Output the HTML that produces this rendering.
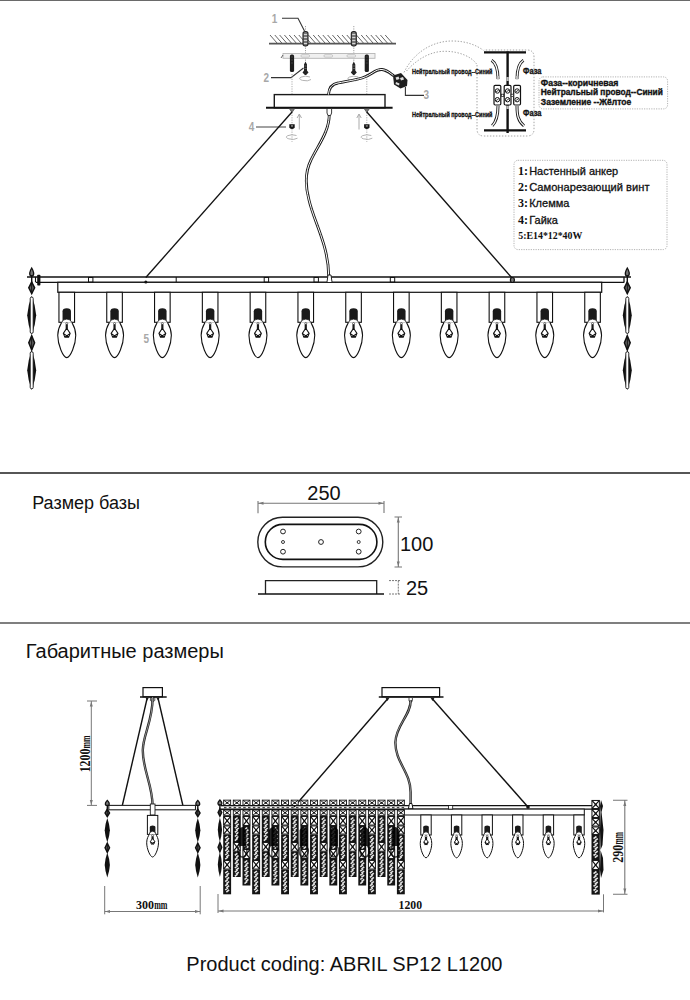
<!DOCTYPE html>
<html><head><meta charset="utf-8"><style>
html,body{margin:0;padding:0;background:#fff;width:690px;height:1000px;overflow:hidden}
svg{display:block}
</style></head><body>
<svg width="690" height="1000" viewBox="0 0 690 1000">
<line x1="0" y1="0.5" x2="690" y2="0.5" stroke="#6a6a6a" stroke-width="1.2"/>
<line x1="0" y1="473" x2="690" y2="473" stroke="#1e1e1e" stroke-width="1.4"/>
<line x1="0" y1="623" x2="690" y2="623" stroke="#555" stroke-width="1.4"/>
<text transform="translate(271.8,23.3) scale(0.8,1)" font-family='"Liberation Sans", sans-serif' font-weight="bold" font-size="12.5" fill="#a8a8a8">1</text>
<text transform="translate(263.5,82.3) scale(0.8,1)" font-family='"Liberation Sans", sans-serif' font-weight="bold" font-size="12.5" fill="#a8a8a8">2</text>
<text transform="translate(423.6,98.6) scale(0.8,1)" font-family='"Liberation Sans", sans-serif' font-weight="bold" font-size="12.5" fill="#a8a8a8">3</text>
<text transform="translate(248.8,131) scale(0.8,1)" font-family='"Liberation Sans", sans-serif' font-weight="bold" font-size="12.5" fill="#a8a8a8">4</text>
<text transform="translate(143.5,342.5) scale(0.8,1)" font-family='"Liberation Sans", sans-serif' font-weight="bold" font-size="12.5" fill="#a8a8a8">5</text>
<polyline points="282,18.3 298,18.3 304.5,31" fill="none" stroke="#333" stroke-width="1.1"/>
<polyline points="271,77.6 291,77.6 303.5,68" fill="none" stroke="#333" stroke-width="1.1"/>
<polyline points="256,127 286,127" fill="none" stroke="#555" stroke-width="1.1"/>
<polyline points="405.4,87 405.4,95.4 424,95.4" fill="none" stroke="#333" stroke-width="1.1"/>
<path d="M270.0,35 L277.0,43 M274.8,35 L281.8,43 M279.6,35 L286.6,43 M284.4,35 L291.4,43 M289.2,35 L296.2,43 M294.0,35 L301.0,43 M298.8,35 L305.8,43 M303.6,35 L310.6,43 M308.4,35 L315.4,43 M313.2,35 L320.2,43 M318.0,35 L325.0,43 M322.8,35 L329.8,43 M327.6,35 L334.6,43 M332.4,35 L339.4,43 M337.2,35 L344.2,43 M342.0,35 L349.0,43 M346.8,35 L353.8,43 M351.6,35 L358.6,43 M356.4,35 L363.4,43 M361.2,35 L368.2,43 M366.0,35 L373.0,43 M370.8,35 L377.8,43 M375.6,35 L382.6,43 M380.4,35 L387.4,43 M385.2,35 L392.2,43" stroke="#666" stroke-width="1" fill="none"/>
<line x1="269" y1="43.6" x2="396" y2="43.6" stroke="#555" stroke-width="1.6"/>
<line x1="305.5" y1="26" x2="305.5" y2="62" stroke="#888" stroke-width="0.8" stroke-dasharray="1.2,1.2"/>
<line x1="353.8" y1="26" x2="353.8" y2="62" stroke="#888" stroke-width="0.8" stroke-dasharray="1.2,1.2"/>
<line x1="292" y1="74" x2="292" y2="142" stroke="#999" stroke-width="0.8" stroke-dasharray="1.2,1.2"/>
<line x1="366.8" y1="74" x2="366.8" y2="142" stroke="#999" stroke-width="0.8" stroke-dasharray="1.2,1.2"/>
<rect x="303.0" y="31.5" width="5" height="14.5" rx="2.2" fill="#777" stroke="#222" stroke-width="1.1"/>
<path d="M303.9,34.5 h3.2 M303.9,37.5 h3.2 M303.9,40.5 h3.2 M303.9,43.5 h3.2" stroke="#eee" stroke-width="0.8"/>
<rect x="351.3" y="31.5" width="5" height="14.5" rx="2.2" fill="#777" stroke="#222" stroke-width="1.1"/>
<path d="M352.2,34.5 h3.2 M352.2,37.5 h3.2 M352.2,40.5 h3.2 M352.2,43.5 h3.2" stroke="#eee" stroke-width="0.8"/>
<rect x="283" y="53.5" width="92" height="4.8" fill="#f0f0f0" stroke="#b5b5b5" stroke-width="0.9"/>
<rect x="301" y="54.7" width="8.5" height="2.4" rx="1" fill="none" stroke="#aaa" stroke-width="0.6"/>
<rect x="324" y="54.7" width="8.5" height="2.4" rx="1" fill="none" stroke="#aaa" stroke-width="0.6"/>
<rect x="347" y="54.7" width="8.5" height="2.4" rx="1" fill="none" stroke="#aaa" stroke-width="0.6"/>
<path d="M281,58 l2,-3" stroke="#555" stroke-width="0.9"/>
<rect x="289.9" y="54.5" width="4.2" height="17.5" rx="1.6" fill="#1e1e1e"/>
<path d="M291,57 h2 M291,60 h2 M291,63 h2" stroke="#555" stroke-width="0.6"/>
<rect x="364.7" y="54.5" width="4.2" height="17.5" rx="1.6" fill="#1e1e1e"/>
<path d="M365.8,57 h2 M365.8,60 h2 M365.8,63 h2" stroke="#555" stroke-width="0.6"/>
<path d="M305.5,61.5 L307.0,64.5 L307.0,70.5 L308.5,72.5 L306.1,75 L304.9,75 L302.5,72.5 L304.0,70.5 L304.0,64.5 Z" fill="#222"/>
<path d="M304.3,66 h2.4 M304.3,68.5 h2.4" stroke="#888" stroke-width="0.6"/>
<path d="M310.0,77 A6 2.2 0 1 0 311.0,79.5" fill="none" stroke="#aaa" stroke-width="0.9"/>
<path d="M353.8,61.5 L355.3,64.5 L355.3,70.5 L356.8,72.5 L354.40000000000003,75 L353.2,75 L350.8,72.5 L352.3,70.5 L352.3,64.5 Z" fill="#222"/>
<path d="M352.6,66 h2.4 M352.6,68.5 h2.4" stroke="#888" stroke-width="0.6"/>
<path d="M358.3,77 A6 2.2 0 1 0 359.3,79.5" fill="none" stroke="#aaa" stroke-width="0.9"/>
<rect x="274.3" y="94.6" width="110.7" height="13.2" fill="#fff" stroke="#1a1a1a" stroke-width="1.4"/>
<line x1="266" y1="107.8" x2="392.6" y2="107.8" stroke="#111" stroke-width="2"/>
<path d="M289.2,108.5 L294.8,108.5 L292,112.5 Z" fill="#777" stroke="#333" stroke-width="0.6"/>
<path d="M289.3,124.3 h5.4 v3.5 q-2.7,2.5 -5.4,0 z" fill="#151515"/>
<rect x="291" y="125.3" width="2" height="1.3" fill="#999"/>
<path d="M296.5,135.5 A6 2.2 0 1 0 297.5,138.2" fill="none" stroke="#aaa" stroke-width="0.9"/>
<path d="M364.0,108.5 L369.6,108.5 L366.8,112.5 Z" fill="#777" stroke="#333" stroke-width="0.6"/>
<path d="M364.1,124.3 h5.4 v3.5 q-2.7,2.5 -5.4,0 z" fill="#151515"/>
<rect x="365.8" y="125.3" width="2" height="1.3" fill="#999"/>
<path d="M371.3,135.5 A6 2.2 0 1 0 372.3,138.2" fill="none" stroke="#aaa" stroke-width="0.9"/>
<path d="M299.3,129.5 V114.5 M297.1,118 L299.3,114 L301.5,118" fill="none" stroke="#aaa" stroke-width="1"/>
<path d="M359,129.5 V114.5 M356.8,118 L359,114 L361.2,118" fill="none" stroke="#aaa" stroke-width="1"/>
<path d="M328.5,94.5 C329,88 332,84 338,83 C348,81 355,80 362,78 C372,75 375,69 382,69.5 C387,70 390,73 394,76" fill="none" stroke="#1a1a1a" stroke-width="2.8"/>
<path d="M328.5,94.5 C329,88 332,84 338,83 C348,81 355,80 362,78 C372,75 375,69 382,69.5 C387,70 390,73 394,76" fill="none" stroke="#fff" stroke-width="1"/>
<path d="M393,75.5 L401,73 L407.5,80 L407,86 L400.5,88.5 L394,84.5 Z" fill="#1e1e1e"/>
<path d="M395.5,77.5 l3,-1 l1,2.5 l-3,1 z M400,78 l3,-1 l1,2.5 l-3,1 z M396,82 l3.5,1.5 l-0.5,2 l-3.5,-1.5 z" fill="#ddd"/>
<line x1="292" y1="112" x2="145.8" y2="277.5" stroke="#111" stroke-width="1.35"/>
<line x1="366.8" y1="112" x2="512.4" y2="278.5" stroke="#111" stroke-width="1.35"/>
<path d="M329.3,114 C329.3,132 318,145 311,160 C305,172 305,185 309,200 C314,222 328.5,245 328.7,276" fill="none" stroke="#1a1a1a" stroke-width="2.8"/>
<path d="M329.3,114 C329.3,132 318,145 311,160 C305,172 305,185 309,200 C314,222 328.5,245 328.7,276" fill="none" stroke="#fff" stroke-width="1.0"/>
<path d="M327,108.5 h4.6 v4.5 l-1,2.5 h-2.6 l-1,-2.5 z" fill="#fff" stroke="#222" stroke-width="0.9"/>
<path d="M404,72.4 C415,50 435,41 452,41 C466,41 476,45 483.4,50.3" stroke="#9a9a9a" stroke-width="0.9" stroke-dasharray="1.4,1.6" fill="none"/>
<path d="M406.5,71 C418,58 432,51 445.6,51.3 C460,51.5 472,57 477,64.6" stroke="#9a9a9a" stroke-width="0.9" stroke-dasharray="1.4,1.6" fill="none"/>
<path d="M477,65 V129 Q477,136 484,136 H527 Q534,136 534,129 V57 Q534,50 527,50 H484" stroke="#9a9a9a" stroke-width="0.9" stroke-dasharray="1.4,1.6" fill="none"/>
<text x="412" y="73.8" font-family='"Liberation Sans", sans-serif' font-weight="bold" font-size="7" fill="#111" text-anchor="start" textLength="80.5" lengthAdjust="spacingAndGlyphs" stroke="#111" stroke-width="0.3">Нейтральный провод--Синий</text>
<text x="412" y="116.5" font-family='"Liberation Sans", sans-serif' font-weight="bold" font-size="7" fill="#111" text-anchor="start" textLength="80.5" lengthAdjust="spacingAndGlyphs" stroke="#111" stroke-width="0.3">Нейтральный провод--Синий</text>
<text x="523.1" y="73.7" font-family='"Liberation Sans", sans-serif' font-weight="bold" font-size="8.2" fill="#111" text-anchor="start" textLength="18.3" lengthAdjust="spacingAndGlyphs" stroke="#111" stroke-width="0.35">Фаза</text>
<text x="523.1" y="116" font-family='"Liberation Sans", sans-serif' font-weight="bold" font-size="8.2" fill="#111" text-anchor="start" textLength="18.3" lengthAdjust="spacingAndGlyphs" stroke="#111" stroke-width="0.35">Фаза</text>
<line x1="484" y1="52.3" x2="526" y2="52.3" stroke="#111" stroke-width="2.2"/>
<line x1="484" y1="130.4" x2="526" y2="130.4" stroke="#111" stroke-width="2.2"/>
<line x1="507.6" y1="51.5" x2="507.6" y2="133" stroke="#111" stroke-width="2.4"/>
<rect x="506.4" y="77" width="2.4" height="4" fill="#bbb"/>
<rect x="506.4" y="105.5" width="2.4" height="3.5" fill="#bbb"/>
<path d="M491.6,60.3 C496.5,63.5 498,69 498,79" fill="none" stroke="#1a1a1a" stroke-width="3"/>
<path d="M491.6,60.3 C496.5,63.5 498,69 498,79" fill="none" stroke="#fff" stroke-width="1.2"/>
<path d="M523.5,60.3 C518.5,63.5 517,69 517,79" fill="none" stroke="#1a1a1a" stroke-width="3"/>
<path d="M523.5,60.3 C518.5,63.5 517,69 517,79" fill="none" stroke="#fff" stroke-width="1.2"/>
<path d="M498,106 C498,115 497,121 492.2,125.8" fill="none" stroke="#1a1a1a" stroke-width="3"/>
<path d="M498,106 C498,115 497,121 492.2,125.8" fill="none" stroke="#fff" stroke-width="1.2"/>
<path d="M517,106 C517,115 518,121 524,125.8" fill="none" stroke="#1a1a1a" stroke-width="3"/>
<path d="M517,106 C517,115 518,121 524,125.8" fill="none" stroke="#fff" stroke-width="1.2"/>
<rect x="496.7" y="76" width="2.6" height="3.5" fill="#bbb"/>
<rect x="515.7" y="76" width="2.6" height="3.5" fill="#bbb"/>
<rect x="494.0" y="85.3" width="6.8" height="19.7" rx="1.2" fill="#fff" stroke="#111" stroke-width="1.2"/>
<circle cx="497.4" cy="91" r="2.2" fill="none" stroke="#111" stroke-width="1"/>
<path d="M496.0,92 l2.8,-2" stroke="#111" stroke-width="0.8"/>
<circle cx="497.4" cy="99.7" r="2.2" fill="none" stroke="#111" stroke-width="1"/>
<path d="M496.0,100.7 l2.8,-2" stroke="#111" stroke-width="0.8"/>
<rect x="504.20000000000005" y="85.3" width="6.8" height="19.7" rx="1.2" fill="#fff" stroke="#111" stroke-width="1.2"/>
<circle cx="507.6" cy="91" r="2.2" fill="none" stroke="#111" stroke-width="1"/>
<path d="M506.20000000000005,92 l2.8,-2" stroke="#111" stroke-width="0.8"/>
<circle cx="507.6" cy="99.7" r="2.2" fill="none" stroke="#111" stroke-width="1"/>
<path d="M506.20000000000005,100.7 l2.8,-2" stroke="#111" stroke-width="0.8"/>
<rect x="513.7" y="85.3" width="6.8" height="19.7" rx="1.2" fill="#fff" stroke="#111" stroke-width="1.2"/>
<circle cx="517.1" cy="91" r="2.2" fill="none" stroke="#111" stroke-width="1"/>
<path d="M515.7,92 l2.8,-2" stroke="#111" stroke-width="0.8"/>
<circle cx="517.1" cy="99.7" r="2.2" fill="none" stroke="#111" stroke-width="1"/>
<path d="M515.7,100.7 l2.8,-2" stroke="#111" stroke-width="0.8"/>
<rect x="501.3" y="94.2" width="2.4" height="2.4" fill="#fff" stroke="#111" stroke-width="0.7"/>
<rect x="511.09999999999997" y="94.2" width="2.4" height="2.4" fill="#fff" stroke="#111" stroke-width="0.7"/>
<rect x="539" y="76.9" width="128.6" height="32" rx="4" fill="none" stroke="#aaa" stroke-width="0.9" stroke-dasharray="1.2,1.2"/>
<text x="540.8" y="85.7" font-family='"Liberation Sans", sans-serif' font-weight="bold" font-size="8.6" fill="#111" text-anchor="start" textLength="77.6" lengthAdjust="spacingAndGlyphs" stroke="#111" stroke-width="0.35">Фаза--коричневая</text>
<text x="540.8" y="95.3" font-family='"Liberation Sans", sans-serif' font-weight="bold" font-size="8.6" fill="#111" text-anchor="start" textLength="122" lengthAdjust="spacingAndGlyphs" stroke="#111" stroke-width="0.35">Нейтральный провод--Синий</text>
<text x="540.8" y="105" font-family='"Liberation Sans", sans-serif' font-weight="bold" font-size="8.6" fill="#111" text-anchor="start" textLength="90.4" lengthAdjust="spacingAndGlyphs" stroke="#111" stroke-width="0.35">Заземление --Жёлтое</text>
<rect x="514" y="160.3" width="153" height="89.3" rx="4" fill="none" stroke="#aaa" stroke-width="0.9" stroke-dasharray="1.2,1.2"/>
<text x="518" y="174.8" font-family='"Liberation Serif", serif' font-weight="bold" font-size="12" fill="#111">1:</text>
<text x="529.2" y="174.8" font-family='"Liberation Sans", sans-serif' font-size="11" fill="#111" stroke="#111" stroke-width="0.3" textLength="89" lengthAdjust="spacingAndGlyphs">Настенный анкер</text>
<text x="518" y="191" font-family='"Liberation Serif", serif' font-weight="bold" font-size="12" fill="#111">2:</text>
<text x="529.2" y="191" font-family='"Liberation Sans", sans-serif' font-size="11" fill="#111" stroke="#111" stroke-width="0.3" textLength="120.3" lengthAdjust="spacingAndGlyphs">Самонарезающий винт</text>
<text x="518" y="206.7" font-family='"Liberation Serif", serif' font-weight="bold" font-size="12" fill="#111">3:</text>
<text x="529.2" y="206.7" font-family='"Liberation Sans", sans-serif' font-size="11" fill="#111" stroke="#111" stroke-width="0.3" >Клемма</text>
<text x="518" y="223.5" font-family='"Liberation Serif", serif' font-weight="bold" font-size="12" fill="#111">4:</text>
<text x="529.2" y="223.5" font-family='"Liberation Sans", sans-serif' font-size="11" fill="#111" stroke="#111" stroke-width="0.3" >Гайка</text>
<text x="518.3" y="239.2" font-family='"Liberation Serif", serif' font-weight="bold" font-size="10.6" fill="#111" textLength="64" lengthAdjust="spacingAndGlyphs">5:E14*12*40W</text>
<line x1="27" y1="277" x2="631" y2="277" stroke="#111" stroke-width="1.3"/>
<line x1="36" y1="282.3" x2="624.3" y2="282.3" stroke="#111" stroke-width="1.3"/>
<line x1="35.5" y1="277" x2="35.5" y2="282.3" stroke="#111" stroke-width="1.1"/>
<rect x="37.2" y="274.8" width="3.2" height="10.8" rx="0.8" fill="#111"/>
<line x1="624" y1="277" x2="624" y2="282.3" stroke="#111" stroke-width="1.3"/>
<line x1="176.2" y1="277" x2="176.2" y2="282.3" stroke="#111" stroke-width="1"/>
<rect x="57.8" y="282.3" width="543.9" height="10" fill="#fff" stroke="#111" stroke-width="1.2"/>
<rect x="88.5" y="277.5" width="4.4" height="4.4" fill="#fff" stroke="#111" stroke-width="1"/>
<rect x="264.2" y="277.5" width="4.4" height="4.4" fill="#fff" stroke="#111" stroke-width="1"/>
<rect x="314.0" y="277.5" width="4.4" height="4.4" fill="#fff" stroke="#111" stroke-width="1"/>
<rect x="390.3" y="277.5" width="4.4" height="4.4" fill="#fff" stroke="#111" stroke-width="1"/>
<circle cx="145.8" cy="282" r="1.5" fill="#111"/>
<ellipse cx="512.4" cy="280" rx="2" ry="2.5" fill="#777" stroke="#111" stroke-width="1.2"/>
<path d="M327,282 L328,275 L331,275 L332,282" fill="#fff" stroke="#111" stroke-width="0.9"/>
<rect x="58.95" y="292.30" width="15.60" height="30.00" fill="#fff" stroke="#111" stroke-width="1.1"/>
<path d="M62.54,321.30 L62.54,311.15 Q62.54,308.20 66.75,308.20 Q70.96,308.20 70.96,311.15 L70.96,321.30 Z" fill="#1a1a1a"/>
<path d="M61.64,322.60 Q62.54,319.10 66.75,319.10 Q70.96,319.10 71.86,322.60 Z" fill="#fff" stroke="#111" stroke-width="0.8"/>
<path d="M61.71,322.30 C60.27,324.77 57.75,328.65 57.75,335.36 C57.75,344.89 63.15,357.60 66.75,357.60 C70.35,357.60 75.75,344.89 75.75,335.36 C75.75,328.65 73.23,324.77 71.79,322.30" fill="#fff" stroke="#111" stroke-width="1.1"/>
<circle cx="66.75" cy="323.50" r="1" fill="#fff" stroke="#222" stroke-width="0.6"/>
<rect x="65.65" y="324.30" width="2.2" height="4.59" fill="#1a1a1a"/>
<path d="M66.75,328.30 L70.17,333.43 L68.63,337.19 L64.87,337.19 L63.33,333.43 Z M63.33,333.43 L68.63,337.19 M70.17,333.43 L64.87,337.19" fill="none" stroke="#111" stroke-width="1.04"/>
<rect x="106.75" y="292.30" width="15.60" height="30.00" fill="#fff" stroke="#111" stroke-width="1.1"/>
<path d="M110.34,321.30 L110.34,311.15 Q110.34,308.20 114.55,308.20 Q118.76,308.20 118.76,311.15 L118.76,321.30 Z" fill="#1a1a1a"/>
<path d="M109.44,322.60 Q110.34,319.10 114.55,319.10 Q118.76,319.10 119.66,322.60 Z" fill="#fff" stroke="#111" stroke-width="0.8"/>
<path d="M109.51,322.30 C108.07,324.77 105.55,328.65 105.55,335.36 C105.55,344.89 110.95,357.60 114.55,357.60 C118.15,357.60 123.55,344.89 123.55,335.36 C123.55,328.65 121.03,324.77 119.59,322.30" fill="#fff" stroke="#111" stroke-width="1.1"/>
<circle cx="114.55" cy="323.50" r="1" fill="#fff" stroke="#222" stroke-width="0.6"/>
<rect x="113.45" y="324.30" width="2.2" height="4.59" fill="#1a1a1a"/>
<path d="M114.55,328.30 L117.97,333.43 L116.43,337.19 L112.67,337.19 L111.13,333.43 Z M111.13,333.43 L116.43,337.19 M117.97,333.43 L112.67,337.19" fill="none" stroke="#111" stroke-width="1.04"/>
<rect x="154.55" y="292.30" width="15.60" height="30.00" fill="#fff" stroke="#111" stroke-width="1.1"/>
<path d="M158.14,321.30 L158.14,311.15 Q158.14,308.20 162.35,308.20 Q166.56,308.20 166.56,311.15 L166.56,321.30 Z" fill="#1a1a1a"/>
<path d="M157.24,322.60 Q158.14,319.10 162.35,319.10 Q166.56,319.10 167.46,322.60 Z" fill="#fff" stroke="#111" stroke-width="0.8"/>
<path d="M157.31,322.30 C155.87,324.77 153.35,328.65 153.35,335.36 C153.35,344.89 158.75,357.60 162.35,357.60 C165.95,357.60 171.35,344.89 171.35,335.36 C171.35,328.65 168.83,324.77 167.39,322.30" fill="#fff" stroke="#111" stroke-width="1.1"/>
<circle cx="162.35" cy="323.50" r="1" fill="#fff" stroke="#222" stroke-width="0.6"/>
<rect x="161.25" y="324.30" width="2.2" height="4.59" fill="#1a1a1a"/>
<path d="M162.35,328.30 L165.77,333.43 L164.23,337.19 L160.47,337.19 L158.93,333.43 Z M158.93,333.43 L164.23,337.19 M165.77,333.43 L160.47,337.19" fill="none" stroke="#111" stroke-width="1.04"/>
<rect x="202.35" y="292.30" width="15.60" height="30.00" fill="#fff" stroke="#111" stroke-width="1.1"/>
<path d="M205.94,321.30 L205.94,311.15 Q205.94,308.20 210.15,308.20 Q214.36,308.20 214.36,311.15 L214.36,321.30 Z" fill="#1a1a1a"/>
<path d="M205.04,322.60 Q205.94,319.10 210.15,319.10 Q214.36,319.10 215.26,322.60 Z" fill="#fff" stroke="#111" stroke-width="0.8"/>
<path d="M205.11,322.30 C203.67,324.77 201.15,328.65 201.15,335.36 C201.15,344.89 206.55,357.60 210.15,357.60 C213.75,357.60 219.15,344.89 219.15,335.36 C219.15,328.65 216.63,324.77 215.19,322.30" fill="#fff" stroke="#111" stroke-width="1.1"/>
<circle cx="210.15" cy="323.50" r="1" fill="#fff" stroke="#222" stroke-width="0.6"/>
<rect x="209.05" y="324.30" width="2.2" height="4.59" fill="#1a1a1a"/>
<path d="M210.15,328.30 L213.57,333.43 L212.03,337.19 L208.27,337.19 L206.73,333.43 Z M206.73,333.43 L212.03,337.19 M213.57,333.43 L208.27,337.19" fill="none" stroke="#111" stroke-width="1.04"/>
<rect x="250.15" y="292.30" width="15.60" height="30.00" fill="#fff" stroke="#111" stroke-width="1.1"/>
<path d="M253.74,321.30 L253.74,311.15 Q253.74,308.20 257.95,308.20 Q262.16,308.20 262.16,311.15 L262.16,321.30 Z" fill="#1a1a1a"/>
<path d="M252.84,322.60 Q253.74,319.10 257.95,319.10 Q262.16,319.10 263.06,322.60 Z" fill="#fff" stroke="#111" stroke-width="0.8"/>
<path d="M252.91,322.30 C251.47,324.77 248.95,328.65 248.95,335.36 C248.95,344.89 254.35,357.60 257.95,357.60 C261.55,357.60 266.95,344.89 266.95,335.36 C266.95,328.65 264.43,324.77 262.99,322.30" fill="#fff" stroke="#111" stroke-width="1.1"/>
<circle cx="257.95" cy="323.50" r="1" fill="#fff" stroke="#222" stroke-width="0.6"/>
<rect x="256.85" y="324.30" width="2.2" height="4.59" fill="#1a1a1a"/>
<path d="M257.95,328.30 L261.37,333.43 L259.83,337.19 L256.07,337.19 L254.53,333.43 Z M254.53,333.43 L259.83,337.19 M261.37,333.43 L256.07,337.19" fill="none" stroke="#111" stroke-width="1.04"/>
<rect x="297.95" y="292.30" width="15.60" height="30.00" fill="#fff" stroke="#111" stroke-width="1.1"/>
<path d="M301.54,321.30 L301.54,311.15 Q301.54,308.20 305.75,308.20 Q309.96,308.20 309.96,311.15 L309.96,321.30 Z" fill="#1a1a1a"/>
<path d="M300.64,322.60 Q301.54,319.10 305.75,319.10 Q309.96,319.10 310.86,322.60 Z" fill="#fff" stroke="#111" stroke-width="0.8"/>
<path d="M300.71,322.30 C299.27,324.77 296.75,328.65 296.75,335.36 C296.75,344.89 302.15,357.60 305.75,357.60 C309.35,357.60 314.75,344.89 314.75,335.36 C314.75,328.65 312.23,324.77 310.79,322.30" fill="#fff" stroke="#111" stroke-width="1.1"/>
<circle cx="305.75" cy="323.50" r="1" fill="#fff" stroke="#222" stroke-width="0.6"/>
<rect x="304.65" y="324.30" width="2.2" height="4.59" fill="#1a1a1a"/>
<path d="M305.75,328.30 L309.17,333.43 L307.63,337.19 L303.87,337.19 L302.33,333.43 Z M302.33,333.43 L307.63,337.19 M309.17,333.43 L303.87,337.19" fill="none" stroke="#111" stroke-width="1.04"/>
<rect x="345.75" y="292.30" width="15.60" height="30.00" fill="#fff" stroke="#111" stroke-width="1.1"/>
<path d="M349.34,321.30 L349.34,311.15 Q349.34,308.20 353.55,308.20 Q357.76,308.20 357.76,311.15 L357.76,321.30 Z" fill="#1a1a1a"/>
<path d="M348.44,322.60 Q349.34,319.10 353.55,319.10 Q357.76,319.10 358.66,322.60 Z" fill="#fff" stroke="#111" stroke-width="0.8"/>
<path d="M348.51,322.30 C347.07,324.77 344.55,328.65 344.55,335.36 C344.55,344.89 349.95,357.60 353.55,357.60 C357.15,357.60 362.55,344.89 362.55,335.36 C362.55,328.65 360.03,324.77 358.59,322.30" fill="#fff" stroke="#111" stroke-width="1.1"/>
<circle cx="353.55" cy="323.50" r="1" fill="#fff" stroke="#222" stroke-width="0.6"/>
<rect x="352.45" y="324.30" width="2.2" height="4.59" fill="#1a1a1a"/>
<path d="M353.55,328.30 L356.97,333.43 L355.43,337.19 L351.67,337.19 L350.13,333.43 Z M350.13,333.43 L355.43,337.19 M356.97,333.43 L351.67,337.19" fill="none" stroke="#111" stroke-width="1.04"/>
<rect x="393.55" y="292.30" width="15.60" height="30.00" fill="#fff" stroke="#111" stroke-width="1.1"/>
<path d="M397.14,321.30 L397.14,311.15 Q397.14,308.20 401.35,308.20 Q405.56,308.20 405.56,311.15 L405.56,321.30 Z" fill="#1a1a1a"/>
<path d="M396.24,322.60 Q397.14,319.10 401.35,319.10 Q405.56,319.10 406.46,322.60 Z" fill="#fff" stroke="#111" stroke-width="0.8"/>
<path d="M396.31,322.30 C394.87,324.77 392.35,328.65 392.35,335.36 C392.35,344.89 397.75,357.60 401.35,357.60 C404.95,357.60 410.35,344.89 410.35,335.36 C410.35,328.65 407.83,324.77 406.39,322.30" fill="#fff" stroke="#111" stroke-width="1.1"/>
<circle cx="401.35" cy="323.50" r="1" fill="#fff" stroke="#222" stroke-width="0.6"/>
<rect x="400.25" y="324.30" width="2.2" height="4.59" fill="#1a1a1a"/>
<path d="M401.35,328.30 L404.77,333.43 L403.23,337.19 L399.47,337.19 L397.93,333.43 Z M397.93,333.43 L403.23,337.19 M404.77,333.43 L399.47,337.19" fill="none" stroke="#111" stroke-width="1.04"/>
<rect x="441.35" y="292.30" width="15.60" height="30.00" fill="#fff" stroke="#111" stroke-width="1.1"/>
<path d="M444.94,321.30 L444.94,311.15 Q444.94,308.20 449.15,308.20 Q453.36,308.20 453.36,311.15 L453.36,321.30 Z" fill="#1a1a1a"/>
<path d="M444.04,322.60 Q444.94,319.10 449.15,319.10 Q453.36,319.10 454.26,322.60 Z" fill="#fff" stroke="#111" stroke-width="0.8"/>
<path d="M444.11,322.30 C442.67,324.77 440.15,328.65 440.15,335.36 C440.15,344.89 445.55,357.60 449.15,357.60 C452.75,357.60 458.15,344.89 458.15,335.36 C458.15,328.65 455.63,324.77 454.19,322.30" fill="#fff" stroke="#111" stroke-width="1.1"/>
<circle cx="449.15" cy="323.50" r="1" fill="#fff" stroke="#222" stroke-width="0.6"/>
<rect x="448.05" y="324.30" width="2.2" height="4.59" fill="#1a1a1a"/>
<path d="M449.15,328.30 L452.57,333.43 L451.03,337.19 L447.27,337.19 L445.73,333.43 Z M445.73,333.43 L451.03,337.19 M452.57,333.43 L447.27,337.19" fill="none" stroke="#111" stroke-width="1.04"/>
<rect x="489.15" y="292.30" width="15.60" height="30.00" fill="#fff" stroke="#111" stroke-width="1.1"/>
<path d="M492.74,321.30 L492.74,311.15 Q492.74,308.20 496.95,308.20 Q501.16,308.20 501.16,311.15 L501.16,321.30 Z" fill="#1a1a1a"/>
<path d="M491.84,322.60 Q492.74,319.10 496.95,319.10 Q501.16,319.10 502.06,322.60 Z" fill="#fff" stroke="#111" stroke-width="0.8"/>
<path d="M491.91,322.30 C490.47,324.77 487.95,328.65 487.95,335.36 C487.95,344.89 493.35,357.60 496.95,357.60 C500.55,357.60 505.95,344.89 505.95,335.36 C505.95,328.65 503.43,324.77 501.99,322.30" fill="#fff" stroke="#111" stroke-width="1.1"/>
<circle cx="496.95" cy="323.50" r="1" fill="#fff" stroke="#222" stroke-width="0.6"/>
<rect x="495.85" y="324.30" width="2.2" height="4.59" fill="#1a1a1a"/>
<path d="M496.95,328.30 L500.37,333.43 L498.83,337.19 L495.07,337.19 L493.53,333.43 Z M493.53,333.43 L498.83,337.19 M500.37,333.43 L495.07,337.19" fill="none" stroke="#111" stroke-width="1.04"/>
<rect x="536.95" y="292.30" width="15.60" height="30.00" fill="#fff" stroke="#111" stroke-width="1.1"/>
<path d="M540.54,321.30 L540.54,311.15 Q540.54,308.20 544.75,308.20 Q548.96,308.20 548.96,311.15 L548.96,321.30 Z" fill="#1a1a1a"/>
<path d="M539.64,322.60 Q540.54,319.10 544.75,319.10 Q548.96,319.10 549.86,322.60 Z" fill="#fff" stroke="#111" stroke-width="0.8"/>
<path d="M539.71,322.30 C538.27,324.77 535.75,328.65 535.75,335.36 C535.75,344.89 541.15,357.60 544.75,357.60 C548.35,357.60 553.75,344.89 553.75,335.36 C553.75,328.65 551.23,324.77 549.79,322.30" fill="#fff" stroke="#111" stroke-width="1.1"/>
<circle cx="544.75" cy="323.50" r="1" fill="#fff" stroke="#222" stroke-width="0.6"/>
<rect x="543.65" y="324.30" width="2.2" height="4.59" fill="#1a1a1a"/>
<path d="M544.75,328.30 L548.17,333.43 L546.63,337.19 L542.87,337.19 L541.33,333.43 Z M541.33,333.43 L546.63,337.19 M548.17,333.43 L542.87,337.19" fill="none" stroke="#111" stroke-width="1.04"/>
<rect x="584.75" y="292.30" width="15.60" height="30.00" fill="#fff" stroke="#111" stroke-width="1.1"/>
<path d="M588.34,321.30 L588.34,311.15 Q588.34,308.20 592.55,308.20 Q596.76,308.20 596.76,311.15 L596.76,321.30 Z" fill="#1a1a1a"/>
<path d="M587.44,322.60 Q588.34,319.10 592.55,319.10 Q596.76,319.10 597.66,322.60 Z" fill="#fff" stroke="#111" stroke-width="0.8"/>
<path d="M587.51,322.30 C586.07,324.77 583.55,328.65 583.55,335.36 C583.55,344.89 588.95,357.60 592.55,357.60 C596.15,357.60 601.55,344.89 601.55,335.36 C601.55,328.65 599.03,324.77 597.59,322.30" fill="#fff" stroke="#111" stroke-width="1.1"/>
<circle cx="592.55" cy="323.50" r="1" fill="#fff" stroke="#222" stroke-width="0.6"/>
<rect x="591.45" y="324.30" width="2.2" height="4.59" fill="#1a1a1a"/>
<path d="M592.55,328.30 L595.97,333.43 L594.43,337.19 L590.67,337.19 L589.13,333.43 Z M589.13,333.43 L594.43,337.19 M595.97,333.43 L590.67,337.19" fill="none" stroke="#111" stroke-width="1.04"/>
<path d="M31.7,268 C33.2,270.44 34.6,273.49 32.9,275.93 L30.5,275.93 C28.8,273.49 30.2,270.44 31.7,268 Z" fill="#777" stroke="#111" stroke-width="1.3"/>
<line x1="31.7" y1="275.32" x2="31.7" y2="282.64" stroke="#111" stroke-width="1.4"/>
<path d="M31.7,282.03 L34.6,287.825 L31.7,293.62 L28.8,287.825 Z" fill="#666" stroke="#111" stroke-width="1.5"/>
<line x1="31.7" y1="282.03" x2="31.7" y2="293.62" stroke="#111" stroke-width="1"/>
<path d="M31.7,295.81600000000003 Q35.48,305.51500000000004 36.2,315.21400000000006 Q35.48,324.91300000000007 31.7,334.612 Q27.919999999999998,324.91300000000007 27.2,315.21400000000006 Q27.919999999999998,305.51500000000004 31.7,295.81600000000003 Z" fill="#111"/>
<rect x="30.2" y="297.016" width="3.0" height="36.395999999999994" rx="1.5" fill="#fff" stroke="#111" stroke-width="0.9"/>
<path d="M31.7,350.472 Q35.48,360.354 36.2,370.236 Q35.48,380.118 31.7,390.0 Q27.919999999999998,380.118 27.2,370.236 Q27.919999999999998,360.354 31.7,350.472 Z" fill="#111"/>
<rect x="30.2" y="351.67199999999997" width="3.0" height="37.12800000000002" rx="1.5" fill="#fff" stroke="#111" stroke-width="0.9"/>
<path d="M31.7,335.71000000000004 L34.6,342.84700000000004 L31.7,349.98400000000004 L28.8,342.84700000000004 Z" fill="#666" stroke="#111" stroke-width="1.5"/>
<line x1="31.7" y1="335.71000000000004" x2="31.7" y2="349.98400000000004" stroke="#111" stroke-width="1"/>
<path d="M627.3,268 C628.8,270.44 630.1999999999999,273.49 628.5,275.93 L626.0999999999999,275.93 C624.4,273.49 625.8,270.44 627.3,268 Z" fill="#777" stroke="#111" stroke-width="1.3"/>
<line x1="627.3" y1="275.32" x2="627.3" y2="282.64" stroke="#111" stroke-width="1.4"/>
<path d="M627.3,282.03 L630.1999999999999,287.825 L627.3,293.62 L624.4,287.825 Z" fill="#666" stroke="#111" stroke-width="1.5"/>
<line x1="627.3" y1="282.03" x2="627.3" y2="293.62" stroke="#111" stroke-width="1"/>
<path d="M627.3,295.81600000000003 Q631.0799999999999,305.51500000000004 631.8,315.21400000000006 Q631.0799999999999,324.91300000000007 627.3,334.612 Q623.52,324.91300000000007 622.8,315.21400000000006 Q623.52,305.51500000000004 627.3,295.81600000000003 Z" fill="#111"/>
<rect x="625.8" y="297.016" width="3.0" height="36.395999999999994" rx="1.5" fill="#fff" stroke="#111" stroke-width="0.9"/>
<path d="M627.3,350.472 Q631.0799999999999,360.354 631.8,370.236 Q631.0799999999999,380.118 627.3,390.0 Q623.52,380.118 622.8,370.236 Q623.52,360.354 627.3,350.472 Z" fill="#111"/>
<rect x="625.8" y="351.67199999999997" width="3.0" height="37.12800000000002" rx="1.5" fill="#fff" stroke="#111" stroke-width="0.9"/>
<path d="M627.3,335.71000000000004 L630.1999999999999,342.84700000000004 L627.3,349.98400000000004 L624.4,342.84700000000004 Z" fill="#666" stroke="#111" stroke-width="1.5"/>
<line x1="627.3" y1="335.71000000000004" x2="627.3" y2="349.98400000000004" stroke="#111" stroke-width="1"/>
<text x="32.2" y="508.6" font-family='"Liberation Sans", sans-serif' font-size="18" fill="#111">Размер базы</text>
<path d="M258,501 V513.3 M258,503.2 H384 M384,501 V513" stroke="#777" stroke-width="1.1" fill="none"/>
<path d="M258.5,503.2 l5,-1.5 v3 z M383.5,503.2 l-5,-1.5 v3 z" fill="#777"/>
<text x="307.3" y="499.9" font-family='"Liberation Sans", sans-serif' font-size="20" fill="#111">250</text>
<rect x="257.8" y="517.3" width="125" height="49.6" rx="24.8" fill="#fff" stroke="#222" stroke-width="1.4"/>
<rect x="265.3" y="524.4" width="111.6" height="35" rx="17.5" fill="#fff" stroke="#111" stroke-width="1.6"/>
<circle cx="283" cy="531.5" r="2.4" fill="none" stroke="#222" stroke-width="1"/>
<circle cx="283" cy="542" r="1.5" fill="none" stroke="#222" stroke-width="0.9"/>
<circle cx="283" cy="551.7" r="2.4" fill="none" stroke="#222" stroke-width="1"/>
<circle cx="358.7" cy="531.5" r="2.4" fill="none" stroke="#222" stroke-width="1"/>
<circle cx="358.7" cy="542" r="1.5" fill="none" stroke="#222" stroke-width="0.9"/>
<circle cx="358.7" cy="551.7" r="2.4" fill="none" stroke="#222" stroke-width="1"/>
<circle cx="321" cy="542" r="2.4" fill="none" stroke="#222" stroke-width="1"/>
<path d="M398.3,517 V567 M394.5,517 H402 M394.5,567 H402" stroke="#777" stroke-width="1.1" fill="none"/>
<path d="M398.3,517.5 l-1.5,5 h3 z M398.3,566.5 l-1.5,-5 h3 z" fill="#777"/>
<text x="400" y="551" font-family='"Liberation Sans", sans-serif' font-size="20" fill="#111">100</text>
<path d="M265.5,594 V580.6 H376.7 V594" fill="#fff" stroke="#222" stroke-width="1.3"/>
<line x1="258" y1="594" x2="384" y2="594" stroke="#111" stroke-width="1.6"/>
<path d="M389,580.6 H401 M389,594 H401 M398.3,580.6 V594" stroke="#777" stroke-width="1" fill="none" stroke-dasharray="2,1"/>
<text x="406" y="594.9" font-family='"Liberation Sans", sans-serif' font-size="20" fill="#111">25</text>
<text x="25.8" y="658.3" font-family='"Liberation Sans", sans-serif' font-size="20" fill="#111">Габаритные размеры</text>
<rect x="143" y="687.6" width="19.4" height="9.2" fill="#fff" stroke="#111" stroke-width="1.2"/>
<path d="M150.4,697.5 h4.4 v3 q-2.2,2.5 -4.4,0 z" fill="#fff" stroke="#222" stroke-width="0.8"/>
<line x1="140" y1="697" x2="166.7" y2="697" stroke="#111" stroke-width="1.5"/>
<path d="M145.39999999999998,697.5 h3.6 l-1.8,3 z" fill="#222"/>
<path d="M156.2,697.5 h3.6 l-1.8,3 z" fill="#222"/>
<line x1="147.2" y1="698" x2="122.2" y2="806" stroke="#111" stroke-width="1.4"/>
<line x1="158" y1="698" x2="183" y2="806" stroke="#111" stroke-width="1.4"/>
<path d="M152.6,697 C153,720 143,735 142.8,750 C142.6,770 152.6,785 152.6,806" fill="none" stroke="#222" stroke-width="2.4"/>
<path d="M152.6,697 C153,720 143,735 142.8,750 C142.6,770 152.6,785 152.6,806" fill="none" stroke="#aaa" stroke-width="0.8"/>
<rect x="108.8" y="805.4" width="86.7" height="4.4" fill="#fff" stroke="#222" stroke-width="1.1"/>
<path d="M91.3,701 V805.4 M87,701 H97 M87,805.4 H97" stroke="#777" stroke-width="1" fill="none"/>
<path d="M91.3,701.5 l-1.5,5 h3 z M91.3,805 l-1.5,-5 h3 z" fill="#777"/>
<g transform="translate(89.6,772.3) rotate(-90)"><text x="0" y="0" font-family='"Liberation Serif", serif' font-weight="bold" font-size="14" fill="#111" textLength="23.6" lengthAdjust="spacingAndGlyphs">1200</text><text x="23.8" y="0" font-family='"Liberation Serif", serif' font-weight="bold" font-size="13.5" fill="#111" textLength="13" lengthAdjust="spacingAndGlyphs">mm</text></g>
<rect x="150.3" y="804" width="4.7" height="11" fill="#fff" stroke="#222" stroke-width="0.9"/>
<rect x="147.40" y="815.40" width="10.40" height="19.00" fill="#fff" stroke="#111" stroke-width="1"/>
<path d="M149.79,833.40 L149.79,827.44 Q149.79,825.47 152.60,825.47 Q155.41,825.47 155.41,827.44 L155.41,833.40 Z" fill="#1a1a1a"/>
<path d="M148.89,834.70 Q149.79,831.20 152.60,831.20 Q155.41,831.20 156.31,834.70 Z" fill="#fff" stroke="#111" stroke-width="0.8"/>
<path d="M149.30,834.40 C148.35,835.98 146.70,838.47 146.70,842.76 C146.70,848.86 150.24,857.00 152.60,857.00 C154.96,857.00 158.50,848.86 158.50,842.76 C158.50,838.47 156.85,835.98 155.90,834.40" fill="#fff" stroke="#111" stroke-width="1"/>
<circle cx="152.60" cy="835.60" r="1" fill="#fff" stroke="#222" stroke-width="0.6"/>
<rect x="151.50" y="836.40" width="2.2" height="2.94" fill="#1a1a1a"/>
<path d="M152.60,838.24 L154.84,841.61 L153.83,844.07 L151.37,844.07 L150.36,841.61 Z M150.36,841.61 L153.83,844.07 M154.84,841.61 L151.37,844.07" fill="none" stroke="#111" stroke-width="0.95"/>
<path d="M107.3,800.4 C108.8,801.944 110.2,803.874 108.5,805.418 L106.1,805.418 C104.39999999999999,803.874 105.8,801.944 107.3,800.4 Z" fill="#777" stroke="#111" stroke-width="1.3"/>
<line x1="107.3" y1="805.0319999999999" x2="107.3" y2="809.664" stroke="#111" stroke-width="1.4"/>
<path d="M107.3,809.278 L109.5,812.9449999999999 L107.3,816.612 L105.1,812.9449999999999 Z" fill="#666" stroke="#111" stroke-width="1.5"/>
<line x1="107.3" y1="809.278" x2="107.3" y2="816.612" stroke="#111" stroke-width="1"/>
<path d="M107.3,818.0015999999999 Q109.484,824.1389999999999 109.89999999999999,830.2764 Q109.484,836.4138 107.3,842.5512 Q105.116,836.4138 104.7,830.2764 Q105.116,824.1389999999999 107.3,818.0015999999999 Z" fill="#111"/>
<path d="M107.3,852.5872 Q109.484,858.8404 109.89999999999999,865.0936 Q109.484,871.3468 107.3,877.6 Q105.116,871.3468 104.7,865.0936 Q105.116,858.8404 107.3,852.5872 Z" fill="#111"/>
<path d="M107.3,843.246 L109.5,847.7622 L107.3,852.2784 L105.1,847.7622 Z" fill="#666" stroke="#111" stroke-width="1.5"/>
<line x1="107.3" y1="843.246" x2="107.3" y2="852.2784" stroke="#111" stroke-width="1"/>
<path d="M197.8,800.4 C199.3,801.944 200.70000000000002,803.874 199.0,805.418 L196.60000000000002,805.418 C194.9,803.874 196.3,801.944 197.8,800.4 Z" fill="#777" stroke="#111" stroke-width="1.3"/>
<line x1="197.8" y1="805.0319999999999" x2="197.8" y2="809.664" stroke="#111" stroke-width="1.4"/>
<path d="M197.8,809.278 L200.0,812.9449999999999 L197.8,816.612 L195.60000000000002,812.9449999999999 Z" fill="#666" stroke="#111" stroke-width="1.5"/>
<line x1="197.8" y1="809.278" x2="197.8" y2="816.612" stroke="#111" stroke-width="1"/>
<path d="M197.8,818.0015999999999 Q199.984,824.1389999999999 200.4,830.2764 Q199.984,836.4138 197.8,842.5512 Q195.616,836.4138 195.20000000000002,830.2764 Q195.616,824.1389999999999 197.8,818.0015999999999 Z" fill="#111"/>
<path d="M197.8,852.5872 Q199.984,858.8404 200.4,865.0936 Q199.984,871.3468 197.8,877.6 Q195.616,871.3468 195.20000000000002,865.0936 Q195.616,858.8404 197.8,852.5872 Z" fill="#111"/>
<path d="M197.8,843.246 L200.0,847.7622 L197.8,852.2784 L195.60000000000002,847.7622 Z" fill="#666" stroke="#111" stroke-width="1.5"/>
<line x1="197.8" y1="843.246" x2="197.8" y2="852.2784" stroke="#111" stroke-width="1"/>
<path d="M104.7,886 V914.3 M200.2,886 V914.3 M104.7,911.5 H200.2" stroke="#777" stroke-width="1" fill="none"/>
<path d="M105,911.5 l5,-1.5 v3 z M200,911.5 l-5,-1.5 v3 z" fill="#777"/>
<text x="136" y="908.7" font-family='"Liberation Serif", serif' font-weight="bold" font-size="13" fill="#111" textLength="18" lengthAdjust="spacingAndGlyphs">300</text><text x="154.2" y="908.7" font-family='"Liberation Serif", serif' font-weight="bold" font-size="12.5" fill="#111" textLength="13.3" lengthAdjust="spacingAndGlyphs">mm</text>
<rect x="382" y="687.6" width="57.6" height="9.2" fill="#fff" stroke="#111" stroke-width="1.2"/>
<line x1="378.8" y1="697" x2="443.5" y2="697" stroke="#111" stroke-width="1.5"/>
<path d="M385.3,697.5 h4.4 l-2.2,3.5 z" fill="#222"/>
<path d="M430.3,697.5 h4.4 l-2.2,3.5 z" fill="#222"/>
<path d="M409,697.5 h3.4 v3 l-0.8,1.5 h-1.8 l-0.8,-1.5 z" fill="#fff" stroke="#222" stroke-width="0.8"/>
<line x1="387.5" y1="699" x2="294" y2="807" stroke="#111" stroke-width="1.4"/>
<line x1="432.5" y1="699" x2="528" y2="807" stroke="#111" stroke-width="1.4"/>
<path d="M410.7,700 C411,715 396,725 395.4,742 C395,762 410.6,772 410.6,792 L410.6,804" fill="none" stroke="#222" stroke-width="2.4"/>
<path d="M410.7,700 C411,715 396,725 395.4,742 C395,762 410.6,772 410.6,792 L410.6,804" fill="none" stroke="#aaa" stroke-width="0.8"/>
<line x1="221" y1="805.6" x2="593" y2="805.6" stroke="#111" stroke-width="1.1"/>
<path d="M408.3,809 L409.5,803.5 h2.4 L413,809 Z" fill="#fff" stroke="#111" stroke-width="1"/>
<line x1="221" y1="809.1" x2="593" y2="809.1" stroke="#111" stroke-width="1.1"/>
<rect x="404" y="809.1" width="180.3" height="5.9" fill="#fff" stroke="#111" stroke-width="1"/>
<rect x="448.5" y="805.6" width="4.2" height="3.5" fill="#fff" stroke="#111" stroke-width="0.8"/>
<circle cx="528" cy="807" r="1.8" fill="#111"/>
<rect x="420.80" y="815.00" width="10.40" height="20.00" fill="#fff" stroke="#111" stroke-width="1"/>
<path d="M423.19,834.00 L423.19,827.57 Q423.19,825.60 426.00,825.60 Q428.81,825.60 428.81,827.57 L428.81,834.00 Z" fill="#1a1a1a"/>
<path d="M422.29,835.30 Q423.19,831.80 426.00,831.80 Q428.81,831.80 429.71,835.30 Z" fill="#fff" stroke="#111" stroke-width="0.8"/>
<path d="M422.78,835.00 C421.86,836.60 420.25,839.10 420.25,843.44 C420.25,849.59 423.70,857.80 426.00,857.80 C428.30,857.80 431.75,849.59 431.75,843.44 C431.75,839.10 430.14,836.60 429.22,835.00" fill="#fff" stroke="#111" stroke-width="1"/>
<circle cx="426.00" cy="836.20" r="1" fill="#fff" stroke="#222" stroke-width="0.6"/>
<rect x="424.90" y="837.00" width="2.2" height="2.96" fill="#1a1a1a"/>
<path d="M426.00,838.88 L428.19,842.15 L427.20,844.56 L424.80,844.56 L423.81,842.15 Z M423.81,842.15 L427.20,844.56 M428.19,842.15 L424.80,844.56" fill="none" stroke="#111" stroke-width="0.95"/>
<rect x="451.40" y="815.00" width="10.40" height="20.00" fill="#fff" stroke="#111" stroke-width="1"/>
<path d="M453.79,834.00 L453.79,827.57 Q453.79,825.60 456.60,825.60 Q459.41,825.60 459.41,827.57 L459.41,834.00 Z" fill="#1a1a1a"/>
<path d="M452.89,835.30 Q453.79,831.80 456.60,831.80 Q459.41,831.80 460.31,835.30 Z" fill="#fff" stroke="#111" stroke-width="0.8"/>
<path d="M453.38,835.00 C452.46,836.60 450.85,839.10 450.85,843.44 C450.85,849.59 454.30,857.80 456.60,857.80 C458.90,857.80 462.35,849.59 462.35,843.44 C462.35,839.10 460.74,836.60 459.82,835.00" fill="#fff" stroke="#111" stroke-width="1"/>
<circle cx="456.60" cy="836.20" r="1" fill="#fff" stroke="#222" stroke-width="0.6"/>
<rect x="455.50" y="837.00" width="2.2" height="2.96" fill="#1a1a1a"/>
<path d="M456.60,838.88 L458.79,842.15 L457.80,844.56 L455.40,844.56 L454.42,842.15 Z M454.42,842.15 L457.80,844.56 M458.79,842.15 L455.40,844.56" fill="none" stroke="#111" stroke-width="0.95"/>
<rect x="482.00" y="815.00" width="10.40" height="20.00" fill="#fff" stroke="#111" stroke-width="1"/>
<path d="M484.39,834.00 L484.39,827.57 Q484.39,825.60 487.20,825.60 Q490.01,825.60 490.01,827.57 L490.01,834.00 Z" fill="#1a1a1a"/>
<path d="M483.49,835.30 Q484.39,831.80 487.20,831.80 Q490.01,831.80 490.91,835.30 Z" fill="#fff" stroke="#111" stroke-width="0.8"/>
<path d="M483.98,835.00 C483.06,836.60 481.45,839.10 481.45,843.44 C481.45,849.59 484.90,857.80 487.20,857.80 C489.50,857.80 492.95,849.59 492.95,843.44 C492.95,839.10 491.34,836.60 490.42,835.00" fill="#fff" stroke="#111" stroke-width="1"/>
<circle cx="487.20" cy="836.20" r="1" fill="#fff" stroke="#222" stroke-width="0.6"/>
<rect x="486.10" y="837.00" width="2.2" height="2.96" fill="#1a1a1a"/>
<path d="M487.20,838.88 L489.38,842.15 L488.40,844.56 L486.00,844.56 L485.01,842.15 Z M485.01,842.15 L488.40,844.56 M489.38,842.15 L486.00,844.56" fill="none" stroke="#111" stroke-width="0.95"/>
<rect x="512.60" y="815.00" width="10.40" height="20.00" fill="#fff" stroke="#111" stroke-width="1"/>
<path d="M514.99,834.00 L514.99,827.57 Q514.99,825.60 517.80,825.60 Q520.61,825.60 520.61,827.57 L520.61,834.00 Z" fill="#1a1a1a"/>
<path d="M514.09,835.30 Q514.99,831.80 517.80,831.80 Q520.61,831.80 521.51,835.30 Z" fill="#fff" stroke="#111" stroke-width="0.8"/>
<path d="M514.58,835.00 C513.66,836.60 512.05,839.10 512.05,843.44 C512.05,849.59 515.50,857.80 517.80,857.80 C520.10,857.80 523.55,849.59 523.55,843.44 C523.55,839.10 521.94,836.60 521.02,835.00" fill="#fff" stroke="#111" stroke-width="1"/>
<circle cx="517.80" cy="836.20" r="1" fill="#fff" stroke="#222" stroke-width="0.6"/>
<rect x="516.70" y="837.00" width="2.2" height="2.96" fill="#1a1a1a"/>
<path d="M517.80,838.88 L519.98,842.15 L519.00,844.56 L516.60,844.56 L515.62,842.15 Z M515.62,842.15 L519.00,844.56 M519.98,842.15 L516.60,844.56" fill="none" stroke="#111" stroke-width="0.95"/>
<rect x="543.20" y="815.00" width="10.40" height="20.00" fill="#fff" stroke="#111" stroke-width="1"/>
<path d="M545.59,834.00 L545.59,827.57 Q545.59,825.60 548.40,825.60 Q551.21,825.60 551.21,827.57 L551.21,834.00 Z" fill="#1a1a1a"/>
<path d="M544.69,835.30 Q545.59,831.80 548.40,831.80 Q551.21,831.80 552.11,835.30 Z" fill="#fff" stroke="#111" stroke-width="0.8"/>
<path d="M545.18,835.00 C544.26,836.60 542.65,839.10 542.65,843.44 C542.65,849.59 546.10,857.80 548.40,857.80 C550.70,857.80 554.15,849.59 554.15,843.44 C554.15,839.10 552.54,836.60 551.62,835.00" fill="#fff" stroke="#111" stroke-width="1"/>
<circle cx="548.40" cy="836.20" r="1" fill="#fff" stroke="#222" stroke-width="0.6"/>
<rect x="547.30" y="837.00" width="2.2" height="2.96" fill="#1a1a1a"/>
<path d="M548.40,838.88 L550.58,842.15 L549.60,844.56 L547.20,844.56 L546.22,842.15 Z M546.22,842.15 L549.60,844.56 M550.58,842.15 L547.20,844.56" fill="none" stroke="#111" stroke-width="0.95"/>
<rect x="573.80" y="815.00" width="10.40" height="20.00" fill="#fff" stroke="#111" stroke-width="1"/>
<path d="M576.19,834.00 L576.19,827.57 Q576.19,825.60 579.00,825.60 Q581.81,825.60 581.81,827.57 L581.81,834.00 Z" fill="#1a1a1a"/>
<path d="M575.29,835.30 Q576.19,831.80 579.00,831.80 Q581.81,831.80 582.71,835.30 Z" fill="#fff" stroke="#111" stroke-width="0.8"/>
<path d="M575.78,835.00 C574.86,836.60 573.25,839.10 573.25,843.44 C573.25,849.59 576.70,857.80 579.00,857.80 C581.30,857.80 584.75,849.59 584.75,843.44 C584.75,839.10 583.14,836.60 582.22,835.00" fill="#fff" stroke="#111" stroke-width="1"/>
<circle cx="579.00" cy="836.20" r="1" fill="#fff" stroke="#222" stroke-width="0.6"/>
<rect x="577.90" y="837.00" width="2.2" height="2.96" fill="#1a1a1a"/>
<path d="M579.00,838.88 L581.18,842.15 L580.20,844.56 L577.80,844.56 L576.82,842.15 Z M576.82,842.15 L580.20,844.56 M581.18,842.15 L577.80,844.56" fill="none" stroke="#111" stroke-width="0.95"/>
<rect x="223.65" y="816.45" width="7.00" height="8.60" fill="#fff" stroke="#111" stroke-width="1.0"/>
<path d="M223.80,816.60 L230.50,824.90 M230.50,816.60 L223.80,824.90" stroke="#111" stroke-width="1.2"/>
<circle cx="227.15" cy="820.75" r="1.0" fill="#111"/>
<rect x="223.65" y="825.95" width="7.00" height="8.10" fill="#fff" stroke="#111" stroke-width="1.0"/>
<path d="M223.80,826.10 L230.50,833.90 M230.50,826.10 L223.80,833.90" stroke="#111" stroke-width="1.2"/>
<circle cx="227.15" cy="830.00" r="1.0" fill="#111"/>
<rect x="223.20" y="834.50" width="7.9" height="25.50" fill="#141414"/>
<path d="M225.20,838.20 L227.95,836.00 M226.35,840.30 L229.10,838.10 M225.20,842.40 L227.95,840.20 M226.35,844.50 L229.10,842.30 M225.20,846.60 L227.95,844.40 M226.35,848.70 L229.10,846.50 M225.20,850.80 L227.95,848.60 M226.35,852.90 L229.10,850.70 M225.20,855.00 L227.95,852.80 M226.35,857.10 L229.10,854.90 M225.20,859.20 L227.95,857.00" stroke="#e2e2e2" stroke-width="1.6"/>
<rect x="223.65" y="860.45" width="7.00" height="8.60" fill="#fff" stroke="#111" stroke-width="1.0"/>
<path d="M223.80,860.60 L230.50,868.90 M230.50,860.60 L223.80,868.90" stroke="#111" stroke-width="1.2"/>
<circle cx="227.15" cy="864.75" r="1.0" fill="#111"/>
<rect x="223.20" y="869.50" width="7.9" height="24.80" fill="#141414"/>
<path d="M225.20,873.20 L227.95,871.00 M226.35,875.30 L229.10,873.10 M225.20,877.40 L227.95,875.20 M226.35,879.50 L229.10,877.30 M225.20,881.60 L227.95,879.40 M226.35,883.70 L229.10,881.50 M225.20,885.80 L227.95,883.60 M226.35,887.90 L229.10,885.70 M225.20,890.00 L227.95,887.80 M226.35,892.10 L229.10,889.90" stroke="#e2e2e2" stroke-width="1.6"/>
<rect x="223.65" y="800.15" width="7.00" height="5.30" fill="#fff" stroke="#111" stroke-width="0.9"/>
<path d="M223.80,800.30 L230.50,805.30 M230.50,800.30 L223.80,805.30" stroke="#111" stroke-width="0.9"/>
<circle cx="227.15" cy="802.80" r="1.0" fill="#111"/>
<rect x="223.65" y="810.05" width="7.00" height="5.30" fill="#fff" stroke="#111" stroke-width="0.9"/>
<path d="M223.80,810.20 L230.50,815.20 M230.50,810.20 L223.80,815.20" stroke="#111" stroke-width="0.9"/>
<circle cx="227.15" cy="812.70" r="1.0" fill="#111"/>
<rect x="232.85" y="816.00" width="7.9" height="26.00" fill="#141414"/>
<path d="M234.85,819.70 L237.60,817.50 M236.00,821.80 L238.75,819.60 M234.85,823.90 L237.60,821.70 M236.00,826.00 L238.75,823.80 M234.85,828.10 L237.60,825.90 M236.00,830.20 L238.75,828.00 M234.85,832.30 L237.60,830.10 M236.00,834.40 L238.75,832.20 M234.85,836.50 L237.60,834.30 M236.00,838.60 L238.75,836.40 M234.85,840.70 L237.60,838.50" stroke="#e2e2e2" stroke-width="1.6"/>
<rect x="233.30" y="842.45" width="7.00" height="8.80" fill="#fff" stroke="#111" stroke-width="1.0"/>
<path d="M233.45,842.60 L240.15,851.10 M240.15,842.60 L233.45,851.10" stroke="#111" stroke-width="1.2"/>
<circle cx="236.80" cy="846.85" r="1.0" fill="#111"/>
<rect x="232.85" y="851.70" width="7.9" height="25.30" fill="#141414"/>
<path d="M234.85,855.40 L237.60,853.20 M236.00,857.50 L238.75,855.30 M234.85,859.60 L237.60,857.40 M236.00,861.70 L238.75,859.50 M234.85,863.80 L237.60,861.60 M236.00,865.90 L238.75,863.70 M234.85,868.00 L237.60,865.80 M236.00,870.10 L238.75,867.90 M234.85,872.20 L237.60,870.00 M236.00,874.30 L238.75,872.10 M234.85,876.40 L237.60,874.20" stroke="#e2e2e2" stroke-width="1.6"/>
<rect x="233.30" y="800.15" width="7.00" height="5.30" fill="#fff" stroke="#111" stroke-width="0.9"/>
<path d="M233.45,800.30 L240.15,805.30 M240.15,800.30 L233.45,805.30" stroke="#111" stroke-width="0.9"/>
<circle cx="236.80" cy="802.80" r="1.0" fill="#111"/>
<rect x="233.30" y="810.05" width="7.00" height="5.30" fill="#fff" stroke="#111" stroke-width="0.9"/>
<path d="M233.45,810.20 L240.15,815.20 M240.15,810.20 L233.45,815.20" stroke="#111" stroke-width="0.9"/>
<circle cx="236.80" cy="812.70" r="1.0" fill="#111"/>
<rect x="242.95" y="816.45" width="7.00" height="9.10" fill="#fff" stroke="#111" stroke-width="1.0"/>
<path d="M243.10,816.60 L249.80,825.40 M249.80,816.60 L243.10,825.40" stroke="#111" stroke-width="1.2"/>
<circle cx="246.45" cy="821.00" r="1.0" fill="#111"/>
<rect x="242.50" y="826.00" width="7.9" height="23.00" fill="#141414"/>
<path d="M244.50,829.70 L247.25,827.50 M245.65,831.80 L248.40,829.60 M244.50,833.90 L247.25,831.70 M245.65,836.00 L248.40,833.80 M244.50,838.10 L247.25,835.90 M245.65,840.20 L248.40,838.00 M244.50,842.30 L247.25,840.10 M245.65,844.40 L248.40,842.20 M244.50,846.50 L247.25,844.30 M245.65,848.60 L248.40,846.40" stroke="#e2e2e2" stroke-width="1.6"/>
<rect x="242.95" y="849.45" width="7.00" height="9.10" fill="#fff" stroke="#111" stroke-width="1.0"/>
<path d="M243.10,849.60 L249.80,858.40 M249.80,849.60 L243.10,858.40" stroke="#111" stroke-width="1.2"/>
<circle cx="246.45" cy="854.00" r="1.0" fill="#111"/>
<rect x="242.50" y="859.00" width="7.9" height="26.50" fill="#141414"/>
<path d="M244.50,862.70 L247.25,860.50 M245.65,864.80 L248.40,862.60 M244.50,866.90 L247.25,864.70 M245.65,869.00 L248.40,866.80 M244.50,871.10 L247.25,868.90 M245.65,873.20 L248.40,871.00 M244.50,875.30 L247.25,873.10 M245.65,877.40 L248.40,875.20 M244.50,879.50 L247.25,877.30 M245.65,881.60 L248.40,879.40 M244.50,883.70 L247.25,881.50" stroke="#e2e2e2" stroke-width="1.6"/>
<rect x="242.95" y="800.15" width="7.00" height="5.30" fill="#fff" stroke="#111" stroke-width="0.9"/>
<path d="M243.10,800.30 L249.80,805.30 M249.80,800.30 L243.10,805.30" stroke="#111" stroke-width="0.9"/>
<circle cx="246.45" cy="802.80" r="1.0" fill="#111"/>
<rect x="242.95" y="810.05" width="7.00" height="5.30" fill="#fff" stroke="#111" stroke-width="0.9"/>
<path d="M243.10,810.20 L249.80,815.20 M249.80,810.20 L243.10,815.20" stroke="#111" stroke-width="0.9"/>
<circle cx="246.45" cy="812.70" r="1.0" fill="#111"/>
<rect x="252.60" y="816.45" width="7.00" height="8.60" fill="#fff" stroke="#111" stroke-width="1.0"/>
<path d="M252.75,816.60 L259.45,824.90 M259.45,816.60 L252.75,824.90" stroke="#111" stroke-width="1.2"/>
<circle cx="256.10" cy="820.75" r="1.0" fill="#111"/>
<rect x="252.60" y="825.95" width="7.00" height="8.10" fill="#fff" stroke="#111" stroke-width="1.0"/>
<path d="M252.75,826.10 L259.45,833.90 M259.45,826.10 L252.75,833.90" stroke="#111" stroke-width="1.2"/>
<circle cx="256.10" cy="830.00" r="1.0" fill="#111"/>
<rect x="252.15" y="834.50" width="7.9" height="25.50" fill="#141414"/>
<path d="M254.15,838.20 L256.90,836.00 M255.30,840.30 L258.05,838.10 M254.15,842.40 L256.90,840.20 M255.30,844.50 L258.05,842.30 M254.15,846.60 L256.90,844.40 M255.30,848.70 L258.05,846.50 M254.15,850.80 L256.90,848.60 M255.30,852.90 L258.05,850.70 M254.15,855.00 L256.90,852.80 M255.30,857.10 L258.05,854.90 M254.15,859.20 L256.90,857.00" stroke="#e2e2e2" stroke-width="1.6"/>
<rect x="252.60" y="860.45" width="7.00" height="8.60" fill="#fff" stroke="#111" stroke-width="1.0"/>
<path d="M252.75,860.60 L259.45,868.90 M259.45,860.60 L252.75,868.90" stroke="#111" stroke-width="1.2"/>
<circle cx="256.10" cy="864.75" r="1.0" fill="#111"/>
<rect x="252.15" y="869.50" width="7.9" height="24.80" fill="#141414"/>
<path d="M254.15,873.20 L256.90,871.00 M255.30,875.30 L258.05,873.10 M254.15,877.40 L256.90,875.20 M255.30,879.50 L258.05,877.30 M254.15,881.60 L256.90,879.40 M255.30,883.70 L258.05,881.50 M254.15,885.80 L256.90,883.60 M255.30,887.90 L258.05,885.70 M254.15,890.00 L256.90,887.80 M255.30,892.10 L258.05,889.90" stroke="#e2e2e2" stroke-width="1.6"/>
<rect x="252.60" y="800.15" width="7.00" height="5.30" fill="#fff" stroke="#111" stroke-width="0.9"/>
<path d="M252.75,800.30 L259.45,805.30 M259.45,800.30 L252.75,805.30" stroke="#111" stroke-width="0.9"/>
<circle cx="256.10" cy="802.80" r="1.0" fill="#111"/>
<rect x="252.60" y="810.05" width="7.00" height="5.30" fill="#fff" stroke="#111" stroke-width="0.9"/>
<path d="M252.75,810.20 L259.45,815.20 M259.45,810.20 L252.75,815.20" stroke="#111" stroke-width="0.9"/>
<circle cx="256.10" cy="812.70" r="1.0" fill="#111"/>
<rect x="261.80" y="816.00" width="7.9" height="26.00" fill="#141414"/>
<path d="M263.80,819.70 L266.55,817.50 M264.95,821.80 L267.70,819.60 M263.80,823.90 L266.55,821.70 M264.95,826.00 L267.70,823.80 M263.80,828.10 L266.55,825.90 M264.95,830.20 L267.70,828.00 M263.80,832.30 L266.55,830.10 M264.95,834.40 L267.70,832.20 M263.80,836.50 L266.55,834.30 M264.95,838.60 L267.70,836.40 M263.80,840.70 L266.55,838.50" stroke="#e2e2e2" stroke-width="1.6"/>
<rect x="262.25" y="842.45" width="7.00" height="8.80" fill="#fff" stroke="#111" stroke-width="1.0"/>
<path d="M262.40,842.60 L269.10,851.10 M269.10,842.60 L262.40,851.10" stroke="#111" stroke-width="1.2"/>
<circle cx="265.75" cy="846.85" r="1.0" fill="#111"/>
<rect x="261.80" y="851.70" width="7.9" height="25.30" fill="#141414"/>
<path d="M263.80,855.40 L266.55,853.20 M264.95,857.50 L267.70,855.30 M263.80,859.60 L266.55,857.40 M264.95,861.70 L267.70,859.50 M263.80,863.80 L266.55,861.60 M264.95,865.90 L267.70,863.70 M263.80,868.00 L266.55,865.80 M264.95,870.10 L267.70,867.90 M263.80,872.20 L266.55,870.00 M264.95,874.30 L267.70,872.10 M263.80,876.40 L266.55,874.20" stroke="#e2e2e2" stroke-width="1.6"/>
<rect x="262.25" y="800.15" width="7.00" height="5.30" fill="#fff" stroke="#111" stroke-width="0.9"/>
<path d="M262.40,800.30 L269.10,805.30 M269.10,800.30 L262.40,805.30" stroke="#111" stroke-width="0.9"/>
<circle cx="265.75" cy="802.80" r="1.0" fill="#111"/>
<rect x="262.25" y="810.05" width="7.00" height="5.30" fill="#fff" stroke="#111" stroke-width="0.9"/>
<path d="M262.40,810.20 L269.10,815.20 M269.10,810.20 L262.40,815.20" stroke="#111" stroke-width="0.9"/>
<circle cx="265.75" cy="812.70" r="1.0" fill="#111"/>
<rect x="271.90" y="816.45" width="7.00" height="9.10" fill="#fff" stroke="#111" stroke-width="1.0"/>
<path d="M272.05,816.60 L278.75,825.40 M278.75,816.60 L272.05,825.40" stroke="#111" stroke-width="1.2"/>
<circle cx="275.40" cy="821.00" r="1.0" fill="#111"/>
<rect x="271.45" y="826.00" width="7.9" height="23.00" fill="#141414"/>
<path d="M273.45,829.70 L276.20,827.50 M274.60,831.80 L277.35,829.60 M273.45,833.90 L276.20,831.70 M274.60,836.00 L277.35,833.80 M273.45,838.10 L276.20,835.90 M274.60,840.20 L277.35,838.00 M273.45,842.30 L276.20,840.10 M274.60,844.40 L277.35,842.20 M273.45,846.50 L276.20,844.30 M274.60,848.60 L277.35,846.40" stroke="#e2e2e2" stroke-width="1.6"/>
<rect x="271.90" y="849.45" width="7.00" height="9.10" fill="#fff" stroke="#111" stroke-width="1.0"/>
<path d="M272.05,849.60 L278.75,858.40 M278.75,849.60 L272.05,858.40" stroke="#111" stroke-width="1.2"/>
<circle cx="275.40" cy="854.00" r="1.0" fill="#111"/>
<rect x="271.45" y="859.00" width="7.9" height="26.50" fill="#141414"/>
<path d="M273.45,862.70 L276.20,860.50 M274.60,864.80 L277.35,862.60 M273.45,866.90 L276.20,864.70 M274.60,869.00 L277.35,866.80 M273.45,871.10 L276.20,868.90 M274.60,873.20 L277.35,871.00 M273.45,875.30 L276.20,873.10 M274.60,877.40 L277.35,875.20 M273.45,879.50 L276.20,877.30 M274.60,881.60 L277.35,879.40 M273.45,883.70 L276.20,881.50" stroke="#e2e2e2" stroke-width="1.6"/>
<rect x="271.90" y="800.15" width="7.00" height="5.30" fill="#fff" stroke="#111" stroke-width="0.9"/>
<path d="M272.05,800.30 L278.75,805.30 M278.75,800.30 L272.05,805.30" stroke="#111" stroke-width="0.9"/>
<circle cx="275.40" cy="802.80" r="1.0" fill="#111"/>
<rect x="271.90" y="810.05" width="7.00" height="5.30" fill="#fff" stroke="#111" stroke-width="0.9"/>
<path d="M272.05,810.20 L278.75,815.20 M278.75,810.20 L272.05,815.20" stroke="#111" stroke-width="0.9"/>
<circle cx="275.40" cy="812.70" r="1.0" fill="#111"/>
<rect x="281.55" y="816.45" width="7.00" height="8.60" fill="#fff" stroke="#111" stroke-width="1.0"/>
<path d="M281.70,816.60 L288.40,824.90 M288.40,816.60 L281.70,824.90" stroke="#111" stroke-width="1.2"/>
<circle cx="285.05" cy="820.75" r="1.0" fill="#111"/>
<rect x="281.55" y="825.95" width="7.00" height="8.10" fill="#fff" stroke="#111" stroke-width="1.0"/>
<path d="M281.70,826.10 L288.40,833.90 M288.40,826.10 L281.70,833.90" stroke="#111" stroke-width="1.2"/>
<circle cx="285.05" cy="830.00" r="1.0" fill="#111"/>
<rect x="281.10" y="834.50" width="7.9" height="25.50" fill="#141414"/>
<path d="M283.10,838.20 L285.85,836.00 M284.25,840.30 L287.00,838.10 M283.10,842.40 L285.85,840.20 M284.25,844.50 L287.00,842.30 M283.10,846.60 L285.85,844.40 M284.25,848.70 L287.00,846.50 M283.10,850.80 L285.85,848.60 M284.25,852.90 L287.00,850.70 M283.10,855.00 L285.85,852.80 M284.25,857.10 L287.00,854.90 M283.10,859.20 L285.85,857.00" stroke="#e2e2e2" stroke-width="1.6"/>
<rect x="281.55" y="860.45" width="7.00" height="8.60" fill="#fff" stroke="#111" stroke-width="1.0"/>
<path d="M281.70,860.60 L288.40,868.90 M288.40,860.60 L281.70,868.90" stroke="#111" stroke-width="1.2"/>
<circle cx="285.05" cy="864.75" r="1.0" fill="#111"/>
<rect x="281.10" y="869.50" width="7.9" height="24.80" fill="#141414"/>
<path d="M283.10,873.20 L285.85,871.00 M284.25,875.30 L287.00,873.10 M283.10,877.40 L285.85,875.20 M284.25,879.50 L287.00,877.30 M283.10,881.60 L285.85,879.40 M284.25,883.70 L287.00,881.50 M283.10,885.80 L285.85,883.60 M284.25,887.90 L287.00,885.70 M283.10,890.00 L285.85,887.80 M284.25,892.10 L287.00,889.90" stroke="#e2e2e2" stroke-width="1.6"/>
<rect x="281.55" y="800.15" width="7.00" height="5.30" fill="#fff" stroke="#111" stroke-width="0.9"/>
<path d="M281.70,800.30 L288.40,805.30 M288.40,800.30 L281.70,805.30" stroke="#111" stroke-width="0.9"/>
<circle cx="285.05" cy="802.80" r="1.0" fill="#111"/>
<rect x="281.55" y="810.05" width="7.00" height="5.30" fill="#fff" stroke="#111" stroke-width="0.9"/>
<path d="M281.70,810.20 L288.40,815.20 M288.40,810.20 L281.70,815.20" stroke="#111" stroke-width="0.9"/>
<circle cx="285.05" cy="812.70" r="1.0" fill="#111"/>
<rect x="290.75" y="816.00" width="7.9" height="26.00" fill="#141414"/>
<path d="M292.75,819.70 L295.50,817.50 M293.90,821.80 L296.65,819.60 M292.75,823.90 L295.50,821.70 M293.90,826.00 L296.65,823.80 M292.75,828.10 L295.50,825.90 M293.90,830.20 L296.65,828.00 M292.75,832.30 L295.50,830.10 M293.90,834.40 L296.65,832.20 M292.75,836.50 L295.50,834.30 M293.90,838.60 L296.65,836.40 M292.75,840.70 L295.50,838.50" stroke="#e2e2e2" stroke-width="1.6"/>
<rect x="291.20" y="842.45" width="7.00" height="8.80" fill="#fff" stroke="#111" stroke-width="1.0"/>
<path d="M291.35,842.60 L298.05,851.10 M298.05,842.60 L291.35,851.10" stroke="#111" stroke-width="1.2"/>
<circle cx="294.70" cy="846.85" r="1.0" fill="#111"/>
<rect x="290.75" y="851.70" width="7.9" height="25.30" fill="#141414"/>
<path d="M292.75,855.40 L295.50,853.20 M293.90,857.50 L296.65,855.30 M292.75,859.60 L295.50,857.40 M293.90,861.70 L296.65,859.50 M292.75,863.80 L295.50,861.60 M293.90,865.90 L296.65,863.70 M292.75,868.00 L295.50,865.80 M293.90,870.10 L296.65,867.90 M292.75,872.20 L295.50,870.00 M293.90,874.30 L296.65,872.10 M292.75,876.40 L295.50,874.20" stroke="#e2e2e2" stroke-width="1.6"/>
<rect x="291.20" y="800.15" width="7.00" height="5.30" fill="#fff" stroke="#111" stroke-width="0.9"/>
<path d="M291.35,800.30 L298.05,805.30 M298.05,800.30 L291.35,805.30" stroke="#111" stroke-width="0.9"/>
<circle cx="294.70" cy="802.80" r="1.0" fill="#111"/>
<rect x="291.20" y="810.05" width="7.00" height="5.30" fill="#fff" stroke="#111" stroke-width="0.9"/>
<path d="M291.35,810.20 L298.05,815.20 M298.05,810.20 L291.35,815.20" stroke="#111" stroke-width="0.9"/>
<circle cx="294.70" cy="812.70" r="1.0" fill="#111"/>
<rect x="300.85" y="816.45" width="7.00" height="9.10" fill="#fff" stroke="#111" stroke-width="1.0"/>
<path d="M301.00,816.60 L307.70,825.40 M307.70,816.60 L301.00,825.40" stroke="#111" stroke-width="1.2"/>
<circle cx="304.35" cy="821.00" r="1.0" fill="#111"/>
<rect x="300.40" y="826.00" width="7.9" height="23.00" fill="#141414"/>
<path d="M302.40,829.70 L305.15,827.50 M303.55,831.80 L306.30,829.60 M302.40,833.90 L305.15,831.70 M303.55,836.00 L306.30,833.80 M302.40,838.10 L305.15,835.90 M303.55,840.20 L306.30,838.00 M302.40,842.30 L305.15,840.10 M303.55,844.40 L306.30,842.20 M302.40,846.50 L305.15,844.30 M303.55,848.60 L306.30,846.40" stroke="#e2e2e2" stroke-width="1.6"/>
<rect x="300.85" y="849.45" width="7.00" height="9.10" fill="#fff" stroke="#111" stroke-width="1.0"/>
<path d="M301.00,849.60 L307.70,858.40 M307.70,849.60 L301.00,858.40" stroke="#111" stroke-width="1.2"/>
<circle cx="304.35" cy="854.00" r="1.0" fill="#111"/>
<rect x="300.40" y="859.00" width="7.9" height="26.50" fill="#141414"/>
<path d="M302.40,862.70 L305.15,860.50 M303.55,864.80 L306.30,862.60 M302.40,866.90 L305.15,864.70 M303.55,869.00 L306.30,866.80 M302.40,871.10 L305.15,868.90 M303.55,873.20 L306.30,871.00 M302.40,875.30 L305.15,873.10 M303.55,877.40 L306.30,875.20 M302.40,879.50 L305.15,877.30 M303.55,881.60 L306.30,879.40 M302.40,883.70 L305.15,881.50" stroke="#e2e2e2" stroke-width="1.6"/>
<rect x="300.85" y="800.15" width="7.00" height="5.30" fill="#fff" stroke="#111" stroke-width="0.9"/>
<path d="M301.00,800.30 L307.70,805.30 M307.70,800.30 L301.00,805.30" stroke="#111" stroke-width="0.9"/>
<circle cx="304.35" cy="802.80" r="1.0" fill="#111"/>
<rect x="300.85" y="810.05" width="7.00" height="5.30" fill="#fff" stroke="#111" stroke-width="0.9"/>
<path d="M301.00,810.20 L307.70,815.20 M307.70,810.20 L301.00,815.20" stroke="#111" stroke-width="0.9"/>
<circle cx="304.35" cy="812.70" r="1.0" fill="#111"/>
<rect x="310.50" y="816.45" width="7.00" height="8.60" fill="#fff" stroke="#111" stroke-width="1.0"/>
<path d="M310.65,816.60 L317.35,824.90 M317.35,816.60 L310.65,824.90" stroke="#111" stroke-width="1.2"/>
<circle cx="314.00" cy="820.75" r="1.0" fill="#111"/>
<rect x="310.50" y="825.95" width="7.00" height="8.10" fill="#fff" stroke="#111" stroke-width="1.0"/>
<path d="M310.65,826.10 L317.35,833.90 M317.35,826.10 L310.65,833.90" stroke="#111" stroke-width="1.2"/>
<circle cx="314.00" cy="830.00" r="1.0" fill="#111"/>
<rect x="310.05" y="834.50" width="7.9" height="25.50" fill="#141414"/>
<path d="M312.05,838.20 L314.80,836.00 M313.20,840.30 L315.95,838.10 M312.05,842.40 L314.80,840.20 M313.20,844.50 L315.95,842.30 M312.05,846.60 L314.80,844.40 M313.20,848.70 L315.95,846.50 M312.05,850.80 L314.80,848.60 M313.20,852.90 L315.95,850.70 M312.05,855.00 L314.80,852.80 M313.20,857.10 L315.95,854.90 M312.05,859.20 L314.80,857.00" stroke="#e2e2e2" stroke-width="1.6"/>
<rect x="310.50" y="860.45" width="7.00" height="8.60" fill="#fff" stroke="#111" stroke-width="1.0"/>
<path d="M310.65,860.60 L317.35,868.90 M317.35,860.60 L310.65,868.90" stroke="#111" stroke-width="1.2"/>
<circle cx="314.00" cy="864.75" r="1.0" fill="#111"/>
<rect x="310.05" y="869.50" width="7.9" height="24.80" fill="#141414"/>
<path d="M312.05,873.20 L314.80,871.00 M313.20,875.30 L315.95,873.10 M312.05,877.40 L314.80,875.20 M313.20,879.50 L315.95,877.30 M312.05,881.60 L314.80,879.40 M313.20,883.70 L315.95,881.50 M312.05,885.80 L314.80,883.60 M313.20,887.90 L315.95,885.70 M312.05,890.00 L314.80,887.80 M313.20,892.10 L315.95,889.90" stroke="#e2e2e2" stroke-width="1.6"/>
<rect x="310.50" y="800.15" width="7.00" height="5.30" fill="#fff" stroke="#111" stroke-width="0.9"/>
<path d="M310.65,800.30 L317.35,805.30 M317.35,800.30 L310.65,805.30" stroke="#111" stroke-width="0.9"/>
<circle cx="314.00" cy="802.80" r="1.0" fill="#111"/>
<rect x="310.50" y="810.05" width="7.00" height="5.30" fill="#fff" stroke="#111" stroke-width="0.9"/>
<path d="M310.65,810.20 L317.35,815.20 M317.35,810.20 L310.65,815.20" stroke="#111" stroke-width="0.9"/>
<circle cx="314.00" cy="812.70" r="1.0" fill="#111"/>
<rect x="319.70" y="816.00" width="7.9" height="26.00" fill="#141414"/>
<path d="M321.70,819.70 L324.45,817.50 M322.85,821.80 L325.60,819.60 M321.70,823.90 L324.45,821.70 M322.85,826.00 L325.60,823.80 M321.70,828.10 L324.45,825.90 M322.85,830.20 L325.60,828.00 M321.70,832.30 L324.45,830.10 M322.85,834.40 L325.60,832.20 M321.70,836.50 L324.45,834.30 M322.85,838.60 L325.60,836.40 M321.70,840.70 L324.45,838.50" stroke="#e2e2e2" stroke-width="1.6"/>
<rect x="320.15" y="842.45" width="7.00" height="8.80" fill="#fff" stroke="#111" stroke-width="1.0"/>
<path d="M320.30,842.60 L327.00,851.10 M327.00,842.60 L320.30,851.10" stroke="#111" stroke-width="1.2"/>
<circle cx="323.65" cy="846.85" r="1.0" fill="#111"/>
<rect x="319.70" y="851.70" width="7.9" height="25.30" fill="#141414"/>
<path d="M321.70,855.40 L324.45,853.20 M322.85,857.50 L325.60,855.30 M321.70,859.60 L324.45,857.40 M322.85,861.70 L325.60,859.50 M321.70,863.80 L324.45,861.60 M322.85,865.90 L325.60,863.70 M321.70,868.00 L324.45,865.80 M322.85,870.10 L325.60,867.90 M321.70,872.20 L324.45,870.00 M322.85,874.30 L325.60,872.10 M321.70,876.40 L324.45,874.20" stroke="#e2e2e2" stroke-width="1.6"/>
<rect x="320.15" y="800.15" width="7.00" height="5.30" fill="#fff" stroke="#111" stroke-width="0.9"/>
<path d="M320.30,800.30 L327.00,805.30 M327.00,800.30 L320.30,805.30" stroke="#111" stroke-width="0.9"/>
<circle cx="323.65" cy="802.80" r="1.0" fill="#111"/>
<rect x="320.15" y="810.05" width="7.00" height="5.30" fill="#fff" stroke="#111" stroke-width="0.9"/>
<path d="M320.30,810.20 L327.00,815.20 M327.00,810.20 L320.30,815.20" stroke="#111" stroke-width="0.9"/>
<circle cx="323.65" cy="812.70" r="1.0" fill="#111"/>
<rect x="329.80" y="816.45" width="7.00" height="9.10" fill="#fff" stroke="#111" stroke-width="1.0"/>
<path d="M329.95,816.60 L336.65,825.40 M336.65,816.60 L329.95,825.40" stroke="#111" stroke-width="1.2"/>
<circle cx="333.30" cy="821.00" r="1.0" fill="#111"/>
<rect x="329.35" y="826.00" width="7.9" height="23.00" fill="#141414"/>
<path d="M331.35,829.70 L334.10,827.50 M332.50,831.80 L335.25,829.60 M331.35,833.90 L334.10,831.70 M332.50,836.00 L335.25,833.80 M331.35,838.10 L334.10,835.90 M332.50,840.20 L335.25,838.00 M331.35,842.30 L334.10,840.10 M332.50,844.40 L335.25,842.20 M331.35,846.50 L334.10,844.30 M332.50,848.60 L335.25,846.40" stroke="#e2e2e2" stroke-width="1.6"/>
<rect x="329.80" y="849.45" width="7.00" height="9.10" fill="#fff" stroke="#111" stroke-width="1.0"/>
<path d="M329.95,849.60 L336.65,858.40 M336.65,849.60 L329.95,858.40" stroke="#111" stroke-width="1.2"/>
<circle cx="333.30" cy="854.00" r="1.0" fill="#111"/>
<rect x="329.35" y="859.00" width="7.9" height="26.50" fill="#141414"/>
<path d="M331.35,862.70 L334.10,860.50 M332.50,864.80 L335.25,862.60 M331.35,866.90 L334.10,864.70 M332.50,869.00 L335.25,866.80 M331.35,871.10 L334.10,868.90 M332.50,873.20 L335.25,871.00 M331.35,875.30 L334.10,873.10 M332.50,877.40 L335.25,875.20 M331.35,879.50 L334.10,877.30 M332.50,881.60 L335.25,879.40 M331.35,883.70 L334.10,881.50" stroke="#e2e2e2" stroke-width="1.6"/>
<rect x="329.80" y="800.15" width="7.00" height="5.30" fill="#fff" stroke="#111" stroke-width="0.9"/>
<path d="M329.95,800.30 L336.65,805.30 M336.65,800.30 L329.95,805.30" stroke="#111" stroke-width="0.9"/>
<circle cx="333.30" cy="802.80" r="1.0" fill="#111"/>
<rect x="329.80" y="810.05" width="7.00" height="5.30" fill="#fff" stroke="#111" stroke-width="0.9"/>
<path d="M329.95,810.20 L336.65,815.20 M336.65,810.20 L329.95,815.20" stroke="#111" stroke-width="0.9"/>
<circle cx="333.30" cy="812.70" r="1.0" fill="#111"/>
<rect x="339.45" y="816.45" width="7.00" height="8.60" fill="#fff" stroke="#111" stroke-width="1.0"/>
<path d="M339.60,816.60 L346.30,824.90 M346.30,816.60 L339.60,824.90" stroke="#111" stroke-width="1.2"/>
<circle cx="342.95" cy="820.75" r="1.0" fill="#111"/>
<rect x="339.45" y="825.95" width="7.00" height="8.10" fill="#fff" stroke="#111" stroke-width="1.0"/>
<path d="M339.60,826.10 L346.30,833.90 M346.30,826.10 L339.60,833.90" stroke="#111" stroke-width="1.2"/>
<circle cx="342.95" cy="830.00" r="1.0" fill="#111"/>
<rect x="339.00" y="834.50" width="7.9" height="25.50" fill="#141414"/>
<path d="M341.00,838.20 L343.75,836.00 M342.15,840.30 L344.90,838.10 M341.00,842.40 L343.75,840.20 M342.15,844.50 L344.90,842.30 M341.00,846.60 L343.75,844.40 M342.15,848.70 L344.90,846.50 M341.00,850.80 L343.75,848.60 M342.15,852.90 L344.90,850.70 M341.00,855.00 L343.75,852.80 M342.15,857.10 L344.90,854.90 M341.00,859.20 L343.75,857.00" stroke="#e2e2e2" stroke-width="1.6"/>
<rect x="339.45" y="860.45" width="7.00" height="8.60" fill="#fff" stroke="#111" stroke-width="1.0"/>
<path d="M339.60,860.60 L346.30,868.90 M346.30,860.60 L339.60,868.90" stroke="#111" stroke-width="1.2"/>
<circle cx="342.95" cy="864.75" r="1.0" fill="#111"/>
<rect x="339.00" y="869.50" width="7.9" height="24.80" fill="#141414"/>
<path d="M341.00,873.20 L343.75,871.00 M342.15,875.30 L344.90,873.10 M341.00,877.40 L343.75,875.20 M342.15,879.50 L344.90,877.30 M341.00,881.60 L343.75,879.40 M342.15,883.70 L344.90,881.50 M341.00,885.80 L343.75,883.60 M342.15,887.90 L344.90,885.70 M341.00,890.00 L343.75,887.80 M342.15,892.10 L344.90,889.90" stroke="#e2e2e2" stroke-width="1.6"/>
<rect x="339.45" y="800.15" width="7.00" height="5.30" fill="#fff" stroke="#111" stroke-width="0.9"/>
<path d="M339.60,800.30 L346.30,805.30 M346.30,800.30 L339.60,805.30" stroke="#111" stroke-width="0.9"/>
<circle cx="342.95" cy="802.80" r="1.0" fill="#111"/>
<rect x="339.45" y="810.05" width="7.00" height="5.30" fill="#fff" stroke="#111" stroke-width="0.9"/>
<path d="M339.60,810.20 L346.30,815.20 M346.30,810.20 L339.60,815.20" stroke="#111" stroke-width="0.9"/>
<circle cx="342.95" cy="812.70" r="1.0" fill="#111"/>
<rect x="348.65" y="816.00" width="7.9" height="26.00" fill="#141414"/>
<path d="M350.65,819.70 L353.40,817.50 M351.80,821.80 L354.55,819.60 M350.65,823.90 L353.40,821.70 M351.80,826.00 L354.55,823.80 M350.65,828.10 L353.40,825.90 M351.80,830.20 L354.55,828.00 M350.65,832.30 L353.40,830.10 M351.80,834.40 L354.55,832.20 M350.65,836.50 L353.40,834.30 M351.80,838.60 L354.55,836.40 M350.65,840.70 L353.40,838.50" stroke="#e2e2e2" stroke-width="1.6"/>
<rect x="349.10" y="842.45" width="7.00" height="8.80" fill="#fff" stroke="#111" stroke-width="1.0"/>
<path d="M349.25,842.60 L355.95,851.10 M355.95,842.60 L349.25,851.10" stroke="#111" stroke-width="1.2"/>
<circle cx="352.60" cy="846.85" r="1.0" fill="#111"/>
<rect x="348.65" y="851.70" width="7.9" height="25.30" fill="#141414"/>
<path d="M350.65,855.40 L353.40,853.20 M351.80,857.50 L354.55,855.30 M350.65,859.60 L353.40,857.40 M351.80,861.70 L354.55,859.50 M350.65,863.80 L353.40,861.60 M351.80,865.90 L354.55,863.70 M350.65,868.00 L353.40,865.80 M351.80,870.10 L354.55,867.90 M350.65,872.20 L353.40,870.00 M351.80,874.30 L354.55,872.10 M350.65,876.40 L353.40,874.20" stroke="#e2e2e2" stroke-width="1.6"/>
<rect x="349.10" y="800.15" width="7.00" height="5.30" fill="#fff" stroke="#111" stroke-width="0.9"/>
<path d="M349.25,800.30 L355.95,805.30 M355.95,800.30 L349.25,805.30" stroke="#111" stroke-width="0.9"/>
<circle cx="352.60" cy="802.80" r="1.0" fill="#111"/>
<rect x="349.10" y="810.05" width="7.00" height="5.30" fill="#fff" stroke="#111" stroke-width="0.9"/>
<path d="M349.25,810.20 L355.95,815.20 M355.95,810.20 L349.25,815.20" stroke="#111" stroke-width="0.9"/>
<circle cx="352.60" cy="812.70" r="1.0" fill="#111"/>
<rect x="358.75" y="816.45" width="7.00" height="9.10" fill="#fff" stroke="#111" stroke-width="1.0"/>
<path d="M358.90,816.60 L365.60,825.40 M365.60,816.60 L358.90,825.40" stroke="#111" stroke-width="1.2"/>
<circle cx="362.25" cy="821.00" r="1.0" fill="#111"/>
<rect x="358.30" y="826.00" width="7.9" height="23.00" fill="#141414"/>
<path d="M360.30,829.70 L363.05,827.50 M361.45,831.80 L364.20,829.60 M360.30,833.90 L363.05,831.70 M361.45,836.00 L364.20,833.80 M360.30,838.10 L363.05,835.90 M361.45,840.20 L364.20,838.00 M360.30,842.30 L363.05,840.10 M361.45,844.40 L364.20,842.20 M360.30,846.50 L363.05,844.30 M361.45,848.60 L364.20,846.40" stroke="#e2e2e2" stroke-width="1.6"/>
<rect x="358.75" y="849.45" width="7.00" height="9.10" fill="#fff" stroke="#111" stroke-width="1.0"/>
<path d="M358.90,849.60 L365.60,858.40 M365.60,849.60 L358.90,858.40" stroke="#111" stroke-width="1.2"/>
<circle cx="362.25" cy="854.00" r="1.0" fill="#111"/>
<rect x="358.30" y="859.00" width="7.9" height="26.50" fill="#141414"/>
<path d="M360.30,862.70 L363.05,860.50 M361.45,864.80 L364.20,862.60 M360.30,866.90 L363.05,864.70 M361.45,869.00 L364.20,866.80 M360.30,871.10 L363.05,868.90 M361.45,873.20 L364.20,871.00 M360.30,875.30 L363.05,873.10 M361.45,877.40 L364.20,875.20 M360.30,879.50 L363.05,877.30 M361.45,881.60 L364.20,879.40 M360.30,883.70 L363.05,881.50" stroke="#e2e2e2" stroke-width="1.6"/>
<rect x="358.75" y="800.15" width="7.00" height="5.30" fill="#fff" stroke="#111" stroke-width="0.9"/>
<path d="M358.90,800.30 L365.60,805.30 M365.60,800.30 L358.90,805.30" stroke="#111" stroke-width="0.9"/>
<circle cx="362.25" cy="802.80" r="1.0" fill="#111"/>
<rect x="358.75" y="810.05" width="7.00" height="5.30" fill="#fff" stroke="#111" stroke-width="0.9"/>
<path d="M358.90,810.20 L365.60,815.20 M365.60,810.20 L358.90,815.20" stroke="#111" stroke-width="0.9"/>
<circle cx="362.25" cy="812.70" r="1.0" fill="#111"/>
<rect x="368.40" y="816.45" width="7.00" height="8.60" fill="#fff" stroke="#111" stroke-width="1.0"/>
<path d="M368.55,816.60 L375.25,824.90 M375.25,816.60 L368.55,824.90" stroke="#111" stroke-width="1.2"/>
<circle cx="371.90" cy="820.75" r="1.0" fill="#111"/>
<rect x="368.40" y="825.95" width="7.00" height="8.10" fill="#fff" stroke="#111" stroke-width="1.0"/>
<path d="M368.55,826.10 L375.25,833.90 M375.25,826.10 L368.55,833.90" stroke="#111" stroke-width="1.2"/>
<circle cx="371.90" cy="830.00" r="1.0" fill="#111"/>
<rect x="367.95" y="834.50" width="7.9" height="25.50" fill="#141414"/>
<path d="M369.95,838.20 L372.70,836.00 M371.10,840.30 L373.85,838.10 M369.95,842.40 L372.70,840.20 M371.10,844.50 L373.85,842.30 M369.95,846.60 L372.70,844.40 M371.10,848.70 L373.85,846.50 M369.95,850.80 L372.70,848.60 M371.10,852.90 L373.85,850.70 M369.95,855.00 L372.70,852.80 M371.10,857.10 L373.85,854.90 M369.95,859.20 L372.70,857.00" stroke="#e2e2e2" stroke-width="1.6"/>
<rect x="368.40" y="860.45" width="7.00" height="8.60" fill="#fff" stroke="#111" stroke-width="1.0"/>
<path d="M368.55,860.60 L375.25,868.90 M375.25,860.60 L368.55,868.90" stroke="#111" stroke-width="1.2"/>
<circle cx="371.90" cy="864.75" r="1.0" fill="#111"/>
<rect x="367.95" y="869.50" width="7.9" height="24.80" fill="#141414"/>
<path d="M369.95,873.20 L372.70,871.00 M371.10,875.30 L373.85,873.10 M369.95,877.40 L372.70,875.20 M371.10,879.50 L373.85,877.30 M369.95,881.60 L372.70,879.40 M371.10,883.70 L373.85,881.50 M369.95,885.80 L372.70,883.60 M371.10,887.90 L373.85,885.70 M369.95,890.00 L372.70,887.80 M371.10,892.10 L373.85,889.90" stroke="#e2e2e2" stroke-width="1.6"/>
<rect x="368.40" y="800.15" width="7.00" height="5.30" fill="#fff" stroke="#111" stroke-width="0.9"/>
<path d="M368.55,800.30 L375.25,805.30 M375.25,800.30 L368.55,805.30" stroke="#111" stroke-width="0.9"/>
<circle cx="371.90" cy="802.80" r="1.0" fill="#111"/>
<rect x="368.40" y="810.05" width="7.00" height="5.30" fill="#fff" stroke="#111" stroke-width="0.9"/>
<path d="M368.55,810.20 L375.25,815.20 M375.25,810.20 L368.55,815.20" stroke="#111" stroke-width="0.9"/>
<circle cx="371.90" cy="812.70" r="1.0" fill="#111"/>
<rect x="377.60" y="816.00" width="7.9" height="26.00" fill="#141414"/>
<path d="M379.60,819.70 L382.35,817.50 M380.75,821.80 L383.50,819.60 M379.60,823.90 L382.35,821.70 M380.75,826.00 L383.50,823.80 M379.60,828.10 L382.35,825.90 M380.75,830.20 L383.50,828.00 M379.60,832.30 L382.35,830.10 M380.75,834.40 L383.50,832.20 M379.60,836.50 L382.35,834.30 M380.75,838.60 L383.50,836.40 M379.60,840.70 L382.35,838.50" stroke="#e2e2e2" stroke-width="1.6"/>
<rect x="378.05" y="842.45" width="7.00" height="8.80" fill="#fff" stroke="#111" stroke-width="1.0"/>
<path d="M378.20,842.60 L384.90,851.10 M384.90,842.60 L378.20,851.10" stroke="#111" stroke-width="1.2"/>
<circle cx="381.55" cy="846.85" r="1.0" fill="#111"/>
<rect x="377.60" y="851.70" width="7.9" height="25.30" fill="#141414"/>
<path d="M379.60,855.40 L382.35,853.20 M380.75,857.50 L383.50,855.30 M379.60,859.60 L382.35,857.40 M380.75,861.70 L383.50,859.50 M379.60,863.80 L382.35,861.60 M380.75,865.90 L383.50,863.70 M379.60,868.00 L382.35,865.80 M380.75,870.10 L383.50,867.90 M379.60,872.20 L382.35,870.00 M380.75,874.30 L383.50,872.10 M379.60,876.40 L382.35,874.20" stroke="#e2e2e2" stroke-width="1.6"/>
<rect x="378.05" y="800.15" width="7.00" height="5.30" fill="#fff" stroke="#111" stroke-width="0.9"/>
<path d="M378.20,800.30 L384.90,805.30 M384.90,800.30 L378.20,805.30" stroke="#111" stroke-width="0.9"/>
<circle cx="381.55" cy="802.80" r="1.0" fill="#111"/>
<rect x="378.05" y="810.05" width="7.00" height="5.30" fill="#fff" stroke="#111" stroke-width="0.9"/>
<path d="M378.20,810.20 L384.90,815.20 M384.90,810.20 L378.20,815.20" stroke="#111" stroke-width="0.9"/>
<circle cx="381.55" cy="812.70" r="1.0" fill="#111"/>
<rect x="387.70" y="816.45" width="7.00" height="9.10" fill="#fff" stroke="#111" stroke-width="1.0"/>
<path d="M387.85,816.60 L394.55,825.40 M394.55,816.60 L387.85,825.40" stroke="#111" stroke-width="1.2"/>
<circle cx="391.20" cy="821.00" r="1.0" fill="#111"/>
<rect x="387.25" y="826.00" width="7.9" height="23.00" fill="#141414"/>
<path d="M389.25,829.70 L392.00,827.50 M390.40,831.80 L393.15,829.60 M389.25,833.90 L392.00,831.70 M390.40,836.00 L393.15,833.80 M389.25,838.10 L392.00,835.90 M390.40,840.20 L393.15,838.00 M389.25,842.30 L392.00,840.10 M390.40,844.40 L393.15,842.20 M389.25,846.50 L392.00,844.30 M390.40,848.60 L393.15,846.40" stroke="#e2e2e2" stroke-width="1.6"/>
<rect x="387.70" y="849.45" width="7.00" height="9.10" fill="#fff" stroke="#111" stroke-width="1.0"/>
<path d="M387.85,849.60 L394.55,858.40 M394.55,849.60 L387.85,858.40" stroke="#111" stroke-width="1.2"/>
<circle cx="391.20" cy="854.00" r="1.0" fill="#111"/>
<rect x="387.25" y="859.00" width="7.9" height="26.50" fill="#141414"/>
<path d="M389.25,862.70 L392.00,860.50 M390.40,864.80 L393.15,862.60 M389.25,866.90 L392.00,864.70 M390.40,869.00 L393.15,866.80 M389.25,871.10 L392.00,868.90 M390.40,873.20 L393.15,871.00 M389.25,875.30 L392.00,873.10 M390.40,877.40 L393.15,875.20 M389.25,879.50 L392.00,877.30 M390.40,881.60 L393.15,879.40 M389.25,883.70 L392.00,881.50" stroke="#e2e2e2" stroke-width="1.6"/>
<rect x="387.70" y="800.15" width="7.00" height="5.30" fill="#fff" stroke="#111" stroke-width="0.9"/>
<path d="M387.85,800.30 L394.55,805.30 M394.55,800.30 L387.85,805.30" stroke="#111" stroke-width="0.9"/>
<circle cx="391.20" cy="802.80" r="1.0" fill="#111"/>
<rect x="387.70" y="810.05" width="7.00" height="5.30" fill="#fff" stroke="#111" stroke-width="0.9"/>
<path d="M387.85,810.20 L394.55,815.20 M394.55,810.20 L387.85,815.20" stroke="#111" stroke-width="0.9"/>
<circle cx="391.20" cy="812.70" r="1.0" fill="#111"/>
<rect x="397.35" y="816.45" width="7.00" height="8.60" fill="#fff" stroke="#111" stroke-width="1.0"/>
<path d="M397.50,816.60 L404.20,824.90 M404.20,816.60 L397.50,824.90" stroke="#111" stroke-width="1.2"/>
<circle cx="400.85" cy="820.75" r="1.0" fill="#111"/>
<rect x="397.35" y="825.95" width="7.00" height="8.10" fill="#fff" stroke="#111" stroke-width="1.0"/>
<path d="M397.50,826.10 L404.20,833.90 M404.20,826.10 L397.50,833.90" stroke="#111" stroke-width="1.2"/>
<circle cx="400.85" cy="830.00" r="1.0" fill="#111"/>
<rect x="396.90" y="834.50" width="7.9" height="25.50" fill="#141414"/>
<path d="M398.90,838.20 L401.65,836.00 M400.05,840.30 L402.80,838.10 M398.90,842.40 L401.65,840.20 M400.05,844.50 L402.80,842.30 M398.90,846.60 L401.65,844.40 M400.05,848.70 L402.80,846.50 M398.90,850.80 L401.65,848.60 M400.05,852.90 L402.80,850.70 M398.90,855.00 L401.65,852.80 M400.05,857.10 L402.80,854.90 M398.90,859.20 L401.65,857.00" stroke="#e2e2e2" stroke-width="1.6"/>
<rect x="397.35" y="860.45" width="7.00" height="8.60" fill="#fff" stroke="#111" stroke-width="1.0"/>
<path d="M397.50,860.60 L404.20,868.90 M404.20,860.60 L397.50,868.90" stroke="#111" stroke-width="1.2"/>
<circle cx="400.85" cy="864.75" r="1.0" fill="#111"/>
<rect x="396.90" y="869.50" width="7.9" height="24.80" fill="#141414"/>
<path d="M398.90,873.20 L401.65,871.00 M400.05,875.30 L402.80,873.10 M398.90,877.40 L401.65,875.20 M400.05,879.50 L402.80,877.30 M398.90,881.60 L401.65,879.40 M400.05,883.70 L402.80,881.50 M398.90,885.80 L401.65,883.60 M400.05,887.90 L402.80,885.70 M398.90,890.00 L401.65,887.80 M400.05,892.10 L402.80,889.90" stroke="#e2e2e2" stroke-width="1.6"/>
<rect x="397.35" y="800.15" width="7.00" height="5.30" fill="#fff" stroke="#111" stroke-width="0.9"/>
<path d="M397.50,800.30 L404.20,805.30 M404.20,800.30 L397.50,805.30" stroke="#111" stroke-width="0.9"/>
<circle cx="400.85" cy="802.80" r="1.0" fill="#111"/>
<rect x="397.35" y="810.05" width="7.00" height="5.30" fill="#fff" stroke="#111" stroke-width="0.9"/>
<path d="M397.50,810.20 L404.20,815.20 M404.20,810.20 L397.50,815.20" stroke="#111" stroke-width="0.9"/>
<circle cx="400.85" cy="812.70" r="1.0" fill="#111"/>
<line x1="221" y1="805.6" x2="404" y2="805.6" stroke="#111" stroke-width="1"/>
<line x1="221" y1="809.6" x2="404" y2="809.6" stroke="#111" stroke-width="1"/>
<path d="M224.0,807.6 h2.5 M228.8,807.6 h2.5 M233.6,807.6 h2.5 M238.4,807.6 h2.5 M243.2,807.6 h2.5 M248.0,807.6 h2.5 M252.8,807.6 h2.5 M257.6,807.6 h2.5 M262.4,807.6 h2.5 M267.2,807.6 h2.5 M272.0,807.6 h2.5 M276.8,807.6 h2.5 M281.6,807.6 h2.5 M286.4,807.6 h2.5 M291.2,807.6 h2.5 M296.0,807.6 h2.5 M300.8,807.6 h2.5 M305.6,807.6 h2.5 M310.4,807.6 h2.5 M315.2,807.6 h2.5 M320.0,807.6 h2.5 M324.8,807.6 h2.5 M329.6,807.6 h2.5 M334.4,807.6 h2.5 M339.2,807.6 h2.5 M344.0,807.6 h2.5 M348.8,807.6 h2.5 M353.6,807.6 h2.5 M358.4,807.6 h2.5 M363.2,807.6 h2.5 M368.0,807.6 h2.5 M372.8,807.6 h2.5 M377.6,807.6 h2.5 M382.4,807.6 h2.5 M387.2,807.6 h2.5 M392.0,807.6 h2.5 M396.8,807.6 h2.5 M401.6,807.6 h2.5" stroke="#444" stroke-width="1.2"/>
<path d="M391.40,846 V830 Q395.40,824 399.40,830 V846 Z" fill="#000" opacity="0.85"/>
<path d="M392.90,846 C388.90,850 391.40,857 395.40,857 C399.40,857 401.90,850 397.90,846" fill="none" stroke="#000" stroke-width="1.6" opacity="0.7"/>
<path d="M360.80,846 V830 Q364.80,824 368.80,830 V846 Z" fill="#000" opacity="0.85"/>
<path d="M362.30,846 C358.30,850 360.80,857 364.80,857 C368.80,857 371.30,850 367.30,846" fill="none" stroke="#000" stroke-width="1.6" opacity="0.7"/>
<path d="M330.20,846 V830 Q334.20,824 338.20,830 V846 Z" fill="#000" opacity="0.85"/>
<path d="M331.70,846 C327.70,850 330.20,857 334.20,857 C338.20,857 340.70,850 336.70,846" fill="none" stroke="#000" stroke-width="1.6" opacity="0.7"/>
<path d="M299.60,846 V830 Q303.60,824 307.60,830 V846 Z" fill="#000" opacity="0.85"/>
<path d="M301.10,846 C297.10,850 299.60,857 303.60,857 C307.60,857 310.10,850 306.10,846" fill="none" stroke="#000" stroke-width="1.6" opacity="0.7"/>
<path d="M269.00,846 V830 Q273.00,824 277.00,830 V846 Z" fill="#000" opacity="0.85"/>
<path d="M270.50,846 C266.50,850 269.00,857 273.00,857 C277.00,857 279.50,850 275.50,846" fill="none" stroke="#000" stroke-width="1.6" opacity="0.7"/>
<path d="M238.40,846 V830 Q242.40,824 246.40,830 V846 Z" fill="#000" opacity="0.85"/>
<path d="M239.90,846 C235.90,850 238.40,857 242.40,857 C246.40,857 248.90,850 244.90,846" fill="none" stroke="#000" stroke-width="1.6" opacity="0.7"/>
<path d="M219.9,800 C221.4,801.54 222.8,803.465 221.1,805.005 L218.70000000000002,805.005 C217.0,803.465 218.4,801.54 219.9,800 Z" fill="#777" stroke="#111" stroke-width="1.3"/>
<line x1="219.9" y1="804.62" x2="219.9" y2="809.24" stroke="#111" stroke-width="1.4"/>
<path d="M219.9,808.855 L221.70000000000002,812.5125 L219.9,816.17 L218.1,812.5125 Z" fill="#666" stroke="#111" stroke-width="1.5"/>
<line x1="219.9" y1="808.855" x2="219.9" y2="816.17" stroke="#111" stroke-width="1"/>
<path d="M219.9,817.556 Q221.66400000000002,823.6775 222.0,829.799 Q221.66400000000002,835.9205 219.9,842.042 Q218.136,835.9205 217.8,829.799 Q218.136,823.6775 219.9,817.556 Z" fill="#111"/>
<path d="M219.9,852.052 Q221.66400000000002,858.2890000000001 222.0,864.5260000000001 Q221.66400000000002,870.763 219.9,877.0 Q218.136,870.763 217.8,864.5260000000001 Q218.136,858.2890000000001 219.9,852.052 Z" fill="#111"/>
<path d="M219.9,842.735 L221.70000000000002,847.2395 L219.9,851.744 L218.1,847.2395 Z" fill="#666" stroke="#111" stroke-width="1.5"/>
<line x1="219.9" y1="842.735" x2="219.9" y2="851.744" stroke="#111" stroke-width="1"/>
<rect x="591.95" y="800.45" width="7.40" height="8.10" fill="#fff" stroke="#111" stroke-width="1.0"/>
<path d="M592.10,800.60 L599.20,808.40 M599.20,800.60 L592.10,808.40" stroke="#111" stroke-width="1.2"/>
<circle cx="595.65" cy="804.50" r="1.0" fill="#111"/>
<rect x="591.95" y="809.45" width="7.40" height="8.10" fill="#fff" stroke="#111" stroke-width="1.0"/>
<path d="M592.10,809.60 L599.20,817.40 M599.20,809.60 L592.10,817.40" stroke="#111" stroke-width="1.2"/>
<circle cx="595.65" cy="813.50" r="1.0" fill="#111"/>
<rect x="591.95" y="818.45" width="7.40" height="7.60" fill="#fff" stroke="#111" stroke-width="1.0"/>
<path d="M592.10,818.60 L599.20,825.90 M599.20,818.60 L592.10,825.90" stroke="#111" stroke-width="1.2"/>
<circle cx="595.65" cy="822.25" r="1.0" fill="#111"/>
<rect x="591.95" y="826.95" width="7.40" height="7.60" fill="#fff" stroke="#111" stroke-width="1.0"/>
<path d="M592.10,827.10 L599.20,834.40 M599.20,827.10 L592.10,834.40" stroke="#111" stroke-width="1.2"/>
<circle cx="595.65" cy="830.75" r="1.0" fill="#111"/>
<rect x="591.50" y="835.00" width="8.3" height="25.00" fill="#141414"/>
<path d="M593.50,838.70 L596.45,836.50 M594.85,840.80 L597.80,838.60 M593.50,842.90 L596.45,840.70 M594.85,845.00 L597.80,842.80 M593.50,847.10 L596.45,844.90 M594.85,849.20 L597.80,847.00 M593.50,851.30 L596.45,849.10 M594.85,853.40 L597.80,851.20 M593.50,855.50 L596.45,853.30 M594.85,857.60 L597.80,855.40" stroke="#e2e2e2" stroke-width="1.6"/>
<rect x="591.95" y="860.45" width="7.40" height="9.10" fill="#fff" stroke="#111" stroke-width="1.0"/>
<path d="M592.10,860.60 L599.20,869.40 M599.20,860.60 L592.10,869.40" stroke="#111" stroke-width="1.2"/>
<circle cx="595.65" cy="865.00" r="1.0" fill="#111"/>
<rect x="591.50" y="870.00" width="8.3" height="24.60" fill="#141414"/>
<path d="M593.50,873.70 L596.45,871.50 M594.85,875.80 L597.80,873.60 M593.50,877.90 L596.45,875.70 M594.85,880.00 L597.80,877.80 M593.50,882.10 L596.45,879.90 M594.85,884.20 L597.80,882.00 M593.50,886.30 L596.45,884.10 M594.85,888.40 L597.80,886.20 M593.50,890.50 L596.45,888.30 M594.85,892.60 L597.80,890.40" stroke="#e2e2e2" stroke-width="1.6"/>
<path d="M601,800 L603,806 L601.5,812 L603.5,830 L602.5,845 L600.5,850 L603,858 L603.5,870 L601,878 L600,870 L600.5,850 L600,830 L600.5,812 L600,806 Z" fill="#111"/>
<path d="M218,894 V913 M603.5,894.3 V912.4 M218,911 H603.5" stroke="#777" stroke-width="1" fill="none"/>
<path d="M218.5,911 l5,-1.5 v3 z M603,911 l-5,-1.5 v3 z" fill="#777"/>
<text x="398.6" y="908.6" font-family='"Liberation Serif", serif' font-weight="bold" font-size="13" fill="#111" textLength="23.5" lengthAdjust="spacingAndGlyphs">1200</text>
<path d="M624.8,800.3 V894.2 M613,800.3 H627.5 M613,894.2 H627.5" stroke="#777" stroke-width="1.1" fill="none"/>
<path d="M624.8,801 l-1.5,5 h3 z M624.8,893.5 l-1.5,-5 h3 z" fill="#777"/>
<g transform="translate(622.8,862.8) rotate(-90)"><text x="0" y="0" font-family='"Liberation Serif", serif' font-weight="bold" font-size="14" fill="#111" textLength="18" lengthAdjust="spacingAndGlyphs">290</text><text x="18.2" y="0" font-family='"Liberation Serif", serif' font-weight="bold" font-size="14" fill="#111" textLength="12.5" lengthAdjust="spacingAndGlyphs">mm</text></g>
<text x="186.3" y="970.8" font-family='"Liberation Sans", sans-serif' font-size="20" fill="#111">Product coding: ABRIL SP12 L1200</text>
</svg>
</body></html>
